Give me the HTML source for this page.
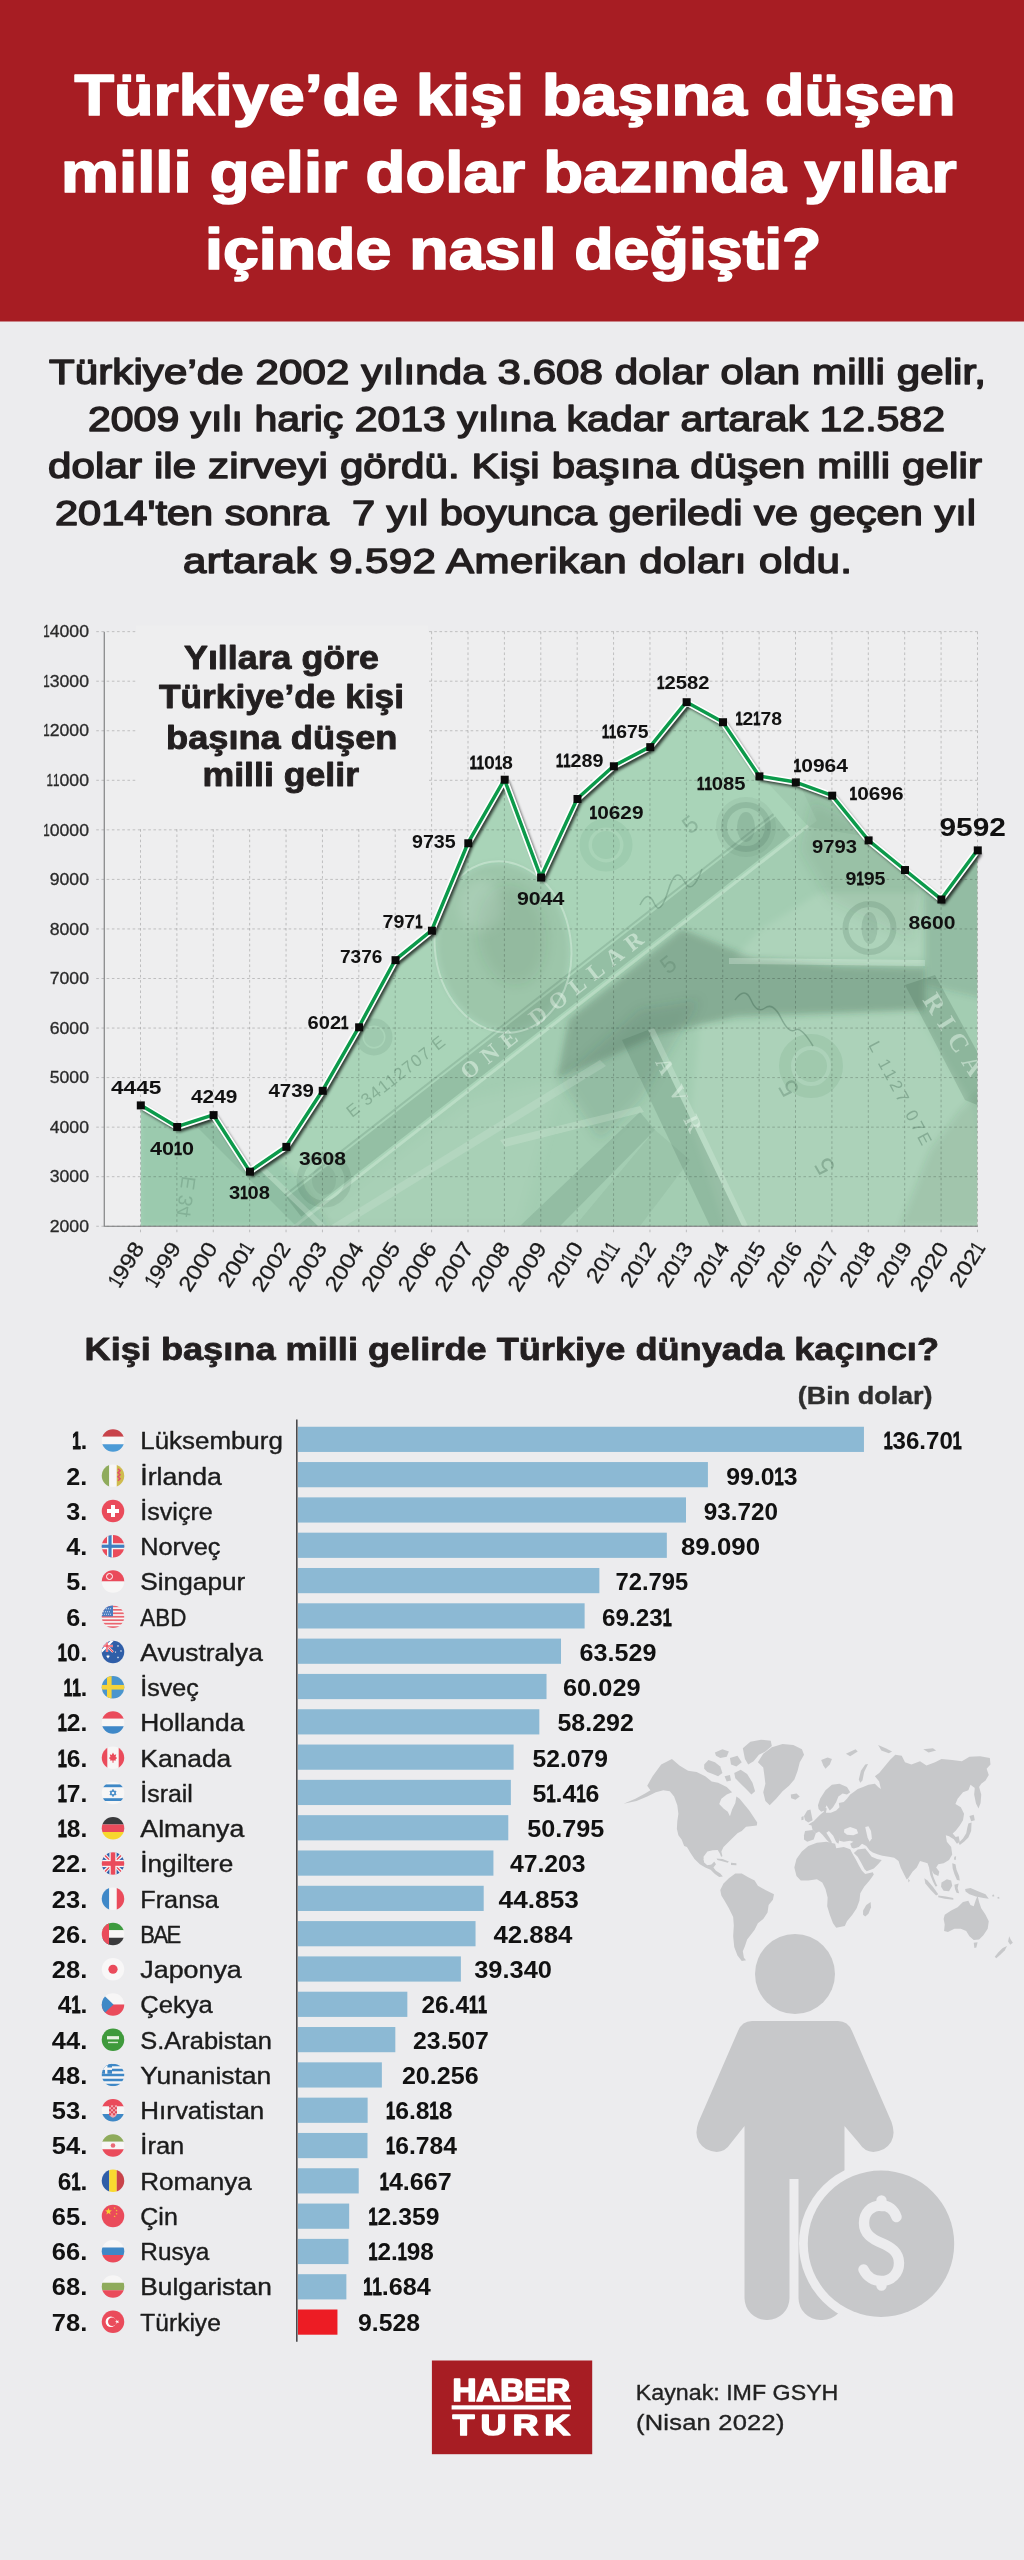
<!DOCTYPE html>
<html lang="tr"><head><meta charset="utf-8"><title>Türkiye’de kişi başına düşen milli gelir</title>
<style>
html,body{margin:0;padding:0;background:#ececee;}
body{width:1024px;height:2560px;overflow:hidden;font-family:"Liberation Sans",sans-serif;}
svg{display:block;}
svg text{font-family:"Liberation Sans",sans-serif;white-space:pre;}
svg text.srf{font-family:"Liberation Serif",serif;}
</style></head><body>
<svg width="1024" height="2560" viewBox="0 0 1024 2560">
<g opacity="0.9999">
<rect x="0" y="0" width="1024" height="2560" fill="#ececee"/>
<rect x="0" y="0" width="1024" height="321.5" fill="#a71d23"/>
<text transform="translate(74.50,115.00) scale(1.1155,1)" font-size="58" font-weight="bold" fill="#ffffff" stroke="#ffffff" stroke-width="1.7" stroke-linejoin="round" textLength="789.75" lengthAdjust="spacingAndGlyphs">Türkiye’de kişi başına düşen</text>
<text transform="translate(61.00,191.50) scale(1.1249,1)" font-size="58" font-weight="bold" fill="#ffffff" stroke="#ffffff" stroke-width="1.7" stroke-linejoin="round" textLength="796.10" lengthAdjust="spacingAndGlyphs">milli gelir dolar bazında yıllar</text>
<text transform="translate(205.00,269.00) scale(1.1121,1)" font-size="58" font-weight="bold" fill="#ffffff" stroke="#ffffff" stroke-width="1.7" stroke-linejoin="round" textLength="554.35" lengthAdjust="spacingAndGlyphs">içinde nasıl değişti?</text>
<text transform="translate(49.00,384.00) scale(1.2000,1)" font-size="35" font-weight="normal" fill="#231f20" stroke="#231f20" stroke-width="1.45" stroke-linejoin="round" textLength="780.83" lengthAdjust="spacing">Türkiye’de 2002 yılında 3.608 dolar olan milli gelir,</text>
<text transform="translate(88.00,431.00) scale(1.1714,1)" font-size="35" font-weight="normal" fill="#231f20" stroke="#231f20" stroke-width="1.45" stroke-linejoin="round" textLength="731.58" lengthAdjust="spacingAndGlyphs">2009 yılı hariç 2013 yılına kadar artarak 12.582</text>
<text transform="translate(48.00,478.00) scale(1.2000,1)" font-size="35" font-weight="normal" fill="#231f20" stroke="#231f20" stroke-width="1.45" stroke-linejoin="round" textLength="778.33" lengthAdjust="spacing">dolar ile zirveyi gördü. Kişi başına düşen milli gelir</text>
<text transform="translate(55.00,525.00) scale(1.1880,1)" font-size="35" font-weight="normal" fill="#231f20" stroke="#231f20" stroke-width="1.45" stroke-linejoin="round" textLength="775.24" lengthAdjust="spacingAndGlyphs">2014&#x27;ten sonra  7 yıl boyunca geriledi ve geçen yıl</text>
<text transform="translate(183.00,572.50) scale(1.2000,1)" font-size="35" font-weight="normal" fill="#231f20" stroke="#231f20" stroke-width="1.45" stroke-linejoin="round" textLength="557.50" lengthAdjust="spacing">artarak 9.592 Amerikan doları oldu.</text>
<defs>
<clipPath id="areaclip"><polygon points="140.50,1226.25 140.50,1105.10 176.89,1126.65 213.28,1114.81 249.67,1171.35 286.06,1146.57 322.45,1090.53 358.84,1027.01 395.23,959.87 431.62,930.39 468.01,842.98 504.40,779.41 540.79,877.22 577.18,798.68 613.57,765.98 649.96,746.85 686.35,701.91 722.74,721.93 759.13,776.09 795.52,782.08 831.91,795.36 868.30,840.11 904.69,869.74 941.08,899.22 977.47,850.07 977.47,1226.25"/></clipPath>
<filter id="blur6" x="-20%" y="-20%" width="140%" height="140%"><feGaussianBlur stdDeviation="6"/></filter>
<filter id="blur3" x="-20%" y="-20%" width="140%" height="140%"><feGaussianBlur stdDeviation="3"/></filter>
<filter id="blur12" x="-30%" y="-30%" width="160%" height="160%"><feGaussianBlur stdDeviation="12"/></filter>
<filter id="lshadow" x="-5%" y="-5%" width="110%" height="110%"><feGaussianBlur stdDeviation="1.5"/></filter>
</defs>
<rect x="104.25" y="631.65" width="873.22" height="594.60" fill="#eeeeef"/>
<g clip-path="url(#areaclip)" aria-hidden="true">
<rect x="140.5" y="631.65" width="836.97" height="594.60" fill="#a9d4b8"/>
<polygon points="816.9,820.8 257.0,1257.5 300.0,1240.0 990.0,1240.0 990.0,700.0 760.0,700.0" fill="#5f7468" fill-opacity="0.074"/>
<polygon points="690.0,700.0 809.0,827.0 990.0,857.0 990.0,690.0" fill="#2a523e" fill-opacity="0.062"/>
<polygon points="790.2,835.4 301.3,1216.7 286.5,1197.8 775.4,816.4" fill="#2a523e" fill-opacity="0.161"/>
<polygon points="809.0,827.0 288.6,1232.9 286.7,1230.6 807.2,824.6" fill="#e6f5ea" fill-opacity="0.279"/>
<polygon points="774.2,814.9 285.3,1196.2 284.1,1194.6 772.9,813.3" fill="#2a523e" fill-opacity="0.155"/>
<text transform="translate(467.7,1080.5) rotate(-38.0)" class="srf" font-weight="bold" font-size="23" textLength="225" lengthAdjust="spacing" fill="#e6f5ea" fill-opacity="0.55">ONE DOLLAR</text>
<ellipse cx="503" cy="947" rx="66" ry="84" fill="#2a523e" fill-opacity="0.105" transform="rotate(-8 503 947)" filter="url(#blur3)"/>
<ellipse cx="512" cy="935" rx="34" ry="50" fill="#2a523e" fill-opacity="0.099" transform="rotate(-8 512 935)" filter="url(#blur6)"/>
<ellipse cx="480" cy="905" rx="22" ry="26" fill="#e6f5ea" fill-opacity="0.155" transform="rotate(0 480 905)" filter="url(#blur6)"/>
<ellipse cx="503" cy="947" rx="68" ry="86" fill="none" stroke="#e6f5ea" stroke-opacity="0.4" stroke-width="2" transform="rotate(-8 503 947)"/>
<circle cx="374" cy="1037" r="15" fill="none" stroke="#2a523e" stroke-opacity="0.099" stroke-width="7"/>
<ellipse cx="374" cy="1037" rx="10" ry="10" fill="#2a523e" fill-opacity="0.074" transform="rotate(0 374 1037)"/>
<text transform="translate(352,1118) rotate(-38)" font-family="Liberation Sans" font-size="17" textLength="120" fill="#2a523e" fill-opacity="0.28">E 34112707 E</text>
<circle cx="324" cy="1180" r="24" fill="none" stroke="#2a523e" stroke-opacity="0.112" stroke-width="7"/>
<ellipse cx="324" cy="1180" rx="12" ry="15" fill="#2a523e" fill-opacity="0.074" transform="rotate(0 324 1180)"/>
<circle cx="606" cy="845" r="22" fill="none" stroke="#2f7d4c" stroke-opacity="0.087" stroke-width="9"/>
<ellipse cx="606" cy="845" rx="14" ry="14" fill="#2f7d4c" fill-opacity="0.087" transform="rotate(0 606 845)"/>
<circle cx="746" cy="827" r="22" fill="none" stroke="#2a523e" stroke-opacity="0.136" stroke-width="6"/>
<ellipse cx="746" cy="827" rx="9" ry="15" fill="#2a523e" fill-opacity="0.136" transform="rotate(0 746 827)"/>
<ellipse cx="746" cy="827" rx="30" ry="30" fill="#2a523e" fill-opacity="0.062" transform="rotate(0 746 827)"/>
<polygon points="569.0,1019.0 682.0,929.0 752.0,958.0 840.0,966.0 925.0,968.0 925.0,1010.0 737.0,1016.0 659.0,1034.0 612.0,1056.0 557.0,1078.0" fill="#2a523e" fill-opacity="0.260" filter="url(#blur3)"/>
<polygon points="560.0,1080.0 640.0,1010.0 700.0,1000.0 640.0,1100.0 600.0,1140.0" fill="#2a523e" fill-opacity="0.136" filter="url(#blur6)"/>
<polygon points="812.0,800.0 870.0,830.0 925.0,880.0 912.0,940.0 830.0,900.0 800.0,850.0" fill="#2a523e" fill-opacity="0.099" filter="url(#blur6)"/>
<polygon points="819.0,893.0 925.0,893.0 925.0,958.0 735.0,958.0 760.0,930.0" fill="#e6f5ea" fill-opacity="0.136" filter="url(#blur3)"/>
<circle cx="869.5" cy="928" r="24" fill="none" stroke="#2a523e" stroke-opacity="0.149" stroke-width="6"/>
<ellipse cx="869.5" cy="928" rx="8" ry="16" fill="#2a523e" fill-opacity="0.136" transform="rotate(0 869.5 928)"/>
<polygon points="729.0,958.0 925.0,960.0 925.0,966.0 729.0,964.0" fill="#e6f5ea" fill-opacity="0.310"/>
<polygon points="925.0,880.0 990.0,860.0 990.0,1000.0 925.0,985.0" fill="#2a523e" fill-opacity="0.136" filter="url(#blur3)"/>
<polygon points="905.0,985.0 935.0,975.0 990.0,1075.0 990.0,1110.0 965.0,1100.0" fill="#2a523e" fill-opacity="0.186"/>
<text transform="translate(922,1000) rotate(58)" class="srf" font-weight="bold" font-size="26" textLength="92" fill="#e6f5ea" fill-opacity="0.5">RICA</text>
<polygon points="700.0,1025.0 915.0,1010.0 975.0,1110.0 990.0,1240.0 730.0,1240.0 690.0,1120.0" fill="#e6f5ea" fill-opacity="0.124" filter="url(#blur3)"/>
<circle cx="811" cy="1066" r="26" fill="none" stroke="#2f7d4c" stroke-opacity="0.099" stroke-width="12"/>
<ellipse cx="811" cy="1066" rx="16" ry="16" fill="#2f7d4c" fill-opacity="0.099" transform="rotate(0 811 1066)"/>
<text transform="translate(868,1045) rotate(62)" font-family="Liberation Sans" font-size="17" textLength="115" fill="#2a523e" fill-opacity="0.3">L 1127 07E</text>
<text transform="translate(836,1168) rotate(-120)" font-family="Liberation Sans" font-size="26" fill="#2a523e" fill-opacity="0.28">5</text>
<text transform="translate(800,1090) rotate(-120)" font-family="Liberation Sans" font-size="26" fill="#2a523e" fill-opacity="0.25">5</text>
<polygon points="900.0,1226.0 930.0,1150.0 960.0,1110.0 990.0,1080.0 990.0,1226.0" fill="#2a523e" fill-opacity="0.099" filter="url(#blur3)"/>
<polygon points="622.0,1040.0 648.0,1030.0 742.0,1226.0 710.0,1226.0" fill="#2a523e" fill-opacity="0.149"/>
<polygon points="648.0,1030.0 654.0,1028.0 748.0,1226.0 742.0,1226.0" fill="#e6f5ea" fill-opacity="0.248"/>
<text transform="translate(655,1062) rotate(64)" class="srf" font-weight="bold" font-size="22" textLength="80" fill="#e6f5ea" fill-opacity="0.5">AVR</text>
<polygon points="640.0,1112.0 655.0,1130.0 560.0,1226.0 520.0,1226.0" fill="#2a523e" fill-opacity="0.124"/>
<polygon points="655.0,1130.0 690.0,1160.0 640.0,1226.0 575.0,1226.0" fill="#2a523e" fill-opacity="0.062"/>
<polygon points="500.0,1140.0 640.0,1106.0 644.0,1112.0 505.0,1147.0" fill="#e6f5ea" fill-opacity="0.217"/>
<polygon points="330.0,1226.0 600.0,1060.0 606.0,1066.0 345.0,1226.0" fill="#e6f5ea" fill-opacity="0.186"/>
<polygon points="300.0,1226.0 470.0,1100.0 560.0,1080.0 520.0,1226.0" fill="#e6f5ea" fill-opacity="0.074" filter="url(#blur6)"/>
<polygon points="140.0,1090.0 215.0,1100.0 300.0,1180.0 330.0,1226.0 140.0,1226.0" fill="#2a523e" fill-opacity="0.081" filter="url(#blur3)"/>
<polygon points="188.0,1118.0 200.0,1112.0 318.0,1226.0 296.0,1226.0" fill="#2a523e" fill-opacity="0.099"/>
<polygon points="200.0,1112.0 205.0,1110.0 326.0,1226.0 318.0,1226.0" fill="#e6f5ea" fill-opacity="0.217"/>
<text transform="translate(190,1218) rotate(-82) scale(-1,1)" font-family="Liberation Sans" font-size="20" fill="#2a523e" fill-opacity="0.2" text-anchor="end">E 34</text>
<path d="M735,1000 q10,-14 16,0 t14,8 t16,10 t14,12 t18,16" fill="none" stroke="#2a523e" stroke-opacity="0.3" stroke-width="1.5"/>
<path d="M640,905 q8,-16 14,-2 t14,-12 t16,-10 t18,-12" fill="none" stroke="#2a523e" stroke-opacity="0.25" stroke-width="1.5"/>
<text transform="translate(690,835) rotate(-38)" font-family="Liberation Sans" font-size="24" fill="#2a523e" fill-opacity="0.22">5</text>
<text transform="translate(668,975) rotate(-38)" font-family="Liberation Sans" font-size="24" fill="#2a523e" fill-opacity="0.18">5</text>
</g>
<path d="M96.25,1226.25H977.47M96.25,1176.70H977.47M96.25,1127.15H977.47M96.25,1077.60H977.47M96.25,1028.05H977.47M96.25,978.50H977.47M96.25,928.95H977.47M96.25,879.40H977.47M96.25,829.85H977.47M96.25,780.30H977.47M96.25,730.75H977.47M96.25,681.20H977.47M96.25,631.65H977.47M140.50,631.65V1234.25M176.89,631.65V1234.25M213.28,631.65V1234.25M249.67,631.65V1234.25M286.06,631.65V1234.25M322.45,631.65V1234.25M358.84,631.65V1234.25M395.23,631.65V1234.25M431.62,631.65V1234.25M468.01,631.65V1234.25M504.40,631.65V1234.25M540.79,631.65V1234.25M577.18,631.65V1234.25M613.57,631.65V1234.25M649.96,631.65V1234.25M686.35,631.65V1234.25M722.74,631.65V1234.25M759.13,631.65V1234.25M795.52,631.65V1234.25M831.91,631.65V1234.25M868.30,631.65V1234.25M904.69,631.65V1234.25M941.08,631.65V1234.25M977.47,631.65V1234.25" fill="none" stroke="#000" stroke-opacity="0.2" stroke-width="1" stroke-dasharray="2.6 2.6"/>
<rect x="136" y="625.65" width="292" height="201.35" fill="#eeeeef"/>
<path d="M104.25,631.65V1226.25H977.47" fill="none" stroke="#77787a" stroke-width="1.1"/>
<g transform="translate(49.72,1231.95) scale(1.0700,1)" font-size="16.5" font-weight="normal" fill="#2a2a2a"><text x="0.00 9.18 18.35 27.53" y="0" stroke="#2a2a2a" stroke-width="0.3" stroke-linejoin="round">2000</text></g>
<g transform="translate(49.72,1182.40) scale(1.0700,1)" font-size="16.5" font-weight="normal" fill="#2a2a2a"><text x="0.00 9.18 18.35 27.53" y="0" stroke="#2a2a2a" stroke-width="0.3" stroke-linejoin="round">3000</text></g>
<g transform="translate(49.72,1132.85) scale(1.0700,1)" font-size="16.5" font-weight="normal" fill="#2a2a2a"><text x="0.00 9.18 18.35 27.53" y="0" stroke="#2a2a2a" stroke-width="0.3" stroke-linejoin="round">4000</text></g>
<g transform="translate(49.72,1083.30) scale(1.0700,1)" font-size="16.5" font-weight="normal" fill="#2a2a2a"><text x="0.00 9.18 18.35 27.53" y="0" stroke="#2a2a2a" stroke-width="0.3" stroke-linejoin="round">5000</text></g>
<g transform="translate(49.72,1033.75) scale(1.0700,1)" font-size="16.5" font-weight="normal" fill="#2a2a2a"><text x="0.00 9.18 18.35 27.53" y="0" stroke="#2a2a2a" stroke-width="0.3" stroke-linejoin="round">6000</text></g>
<g transform="translate(49.72,984.20) scale(1.0700,1)" font-size="16.5" font-weight="normal" fill="#2a2a2a"><text x="0.00 9.18 18.35 27.53" y="0" stroke="#2a2a2a" stroke-width="0.3" stroke-linejoin="round">7000</text></g>
<g transform="translate(49.72,934.65) scale(1.0700,1)" font-size="16.5" font-weight="normal" fill="#2a2a2a"><text x="0.00 9.18 18.35 27.53" y="0" stroke="#2a2a2a" stroke-width="0.3" stroke-linejoin="round">8000</text></g>
<g transform="translate(49.72,885.10) scale(1.0700,1)" font-size="16.5" font-weight="normal" fill="#2a2a2a"><text x="0.00 9.18 18.35 27.53" y="0" stroke="#2a2a2a" stroke-width="0.3" stroke-linejoin="round">9000</text></g>
<g transform="translate(43.24,835.55) scale(1.0700,1)" font-size="16.5" font-weight="normal" fill="#2a2a2a"><text transform="translate(0.00,0) scale(0.66,1)" stroke="#2a2a2a" stroke-width="0.3" stroke-linejoin="round">1</text><text x="6.06 15.23 24.41 33.59" y="0" stroke="#2a2a2a" stroke-width="0.3" stroke-linejoin="round">0000</text></g>
<g transform="translate(46.58,786.00) scale(1.0700,1)" font-size="16.5" font-weight="normal" fill="#2a2a2a"><text transform="translate(0.00,0) scale(0.66,1)" stroke="#2a2a2a" stroke-width="0.3" stroke-linejoin="round">1</text><text transform="translate(6.06,0) scale(0.66,1)" stroke="#2a2a2a" stroke-width="0.3" stroke-linejoin="round">1</text><text x="12.11 21.29 30.47" y="0" stroke="#2a2a2a" stroke-width="0.3" stroke-linejoin="round">000</text></g>
<g transform="translate(43.24,736.45) scale(1.0700,1)" font-size="16.5" font-weight="normal" fill="#2a2a2a"><text transform="translate(0.00,0) scale(0.66,1)" stroke="#2a2a2a" stroke-width="0.3" stroke-linejoin="round">1</text><text x="6.06 15.23 24.41 33.59" y="0" stroke="#2a2a2a" stroke-width="0.3" stroke-linejoin="round">2000</text></g>
<g transform="translate(43.24,686.90) scale(1.0700,1)" font-size="16.5" font-weight="normal" fill="#2a2a2a"><text transform="translate(0.00,0) scale(0.66,1)" stroke="#2a2a2a" stroke-width="0.3" stroke-linejoin="round">1</text><text x="6.06 15.23 24.41 33.59" y="0" stroke="#2a2a2a" stroke-width="0.3" stroke-linejoin="round">3000</text></g>
<g transform="translate(43.24,637.35) scale(1.0700,1)" font-size="16.5" font-weight="normal" fill="#2a2a2a"><text transform="translate(0.00,0) scale(0.66,1)" stroke="#2a2a2a" stroke-width="0.3" stroke-linejoin="round">1</text><text x="6.06 15.23 24.41 33.59" y="0" stroke="#2a2a2a" stroke-width="0.3" stroke-linejoin="round">4000</text></g>
<g transform="translate(145.10,1247.85) rotate(-58) translate(-48.50,0) scale(1.1082,1)" font-size="21.5" font-weight="normal" fill="#1a1a1a"><text transform="translate(0.00,0) scale(0.66,1)" stroke="#1a1a1a" stroke-width="0.3" stroke-linejoin="round">1</text><text x="7.89 19.85 31.81" y="0" stroke="#1a1a1a" stroke-width="0.3" stroke-linejoin="round">998</text></g>
<g transform="translate(181.67,1247.85) rotate(-58) translate(-48.50,0) scale(1.1082,1)" font-size="21.5" font-weight="normal" fill="#1a1a1a"><text transform="translate(0.00,0) scale(0.66,1)" stroke="#1a1a1a" stroke-width="0.3" stroke-linejoin="round">1</text><text x="7.89 19.85 31.81" y="0" stroke="#1a1a1a" stroke-width="0.3" stroke-linejoin="round">999</text></g>
<g transform="translate(218.24,1247.85) rotate(-58) translate(-53.50,0) scale(1.1185,1)" font-size="21.5" font-weight="normal" fill="#1a1a1a"><text x="0.00 11.96 23.92 35.87" y="0" stroke="#1a1a1a" stroke-width="0.3" stroke-linejoin="round">2000</text></g>
<g transform="translate(254.82,1247.85) rotate(-58) translate(-48.50,0) scale(1.1082,1)" font-size="21.5" font-weight="normal" fill="#1a1a1a"><text x="0.00 11.96 23.92" y="0" stroke="#1a1a1a" stroke-width="0.3" stroke-linejoin="round">200</text><text transform="translate(35.87,0) scale(0.66,1)" stroke="#1a1a1a" stroke-width="0.3" stroke-linejoin="round">1</text></g>
<g transform="translate(291.39,1247.85) rotate(-58) translate(-53.50,0) scale(1.1185,1)" font-size="21.5" font-weight="normal" fill="#1a1a1a"><text x="0.00 11.96 23.92 35.87" y="0" stroke="#1a1a1a" stroke-width="0.3" stroke-linejoin="round">2002</text></g>
<g transform="translate(327.96,1247.85) rotate(-58) translate(-53.50,0) scale(1.1185,1)" font-size="21.5" font-weight="normal" fill="#1a1a1a"><text x="0.00 11.96 23.92 35.87" y="0" stroke="#1a1a1a" stroke-width="0.3" stroke-linejoin="round">2003</text></g>
<g transform="translate(364.53,1247.85) rotate(-58) translate(-53.50,0) scale(1.1185,1)" font-size="21.5" font-weight="normal" fill="#1a1a1a"><text x="0.00 11.96 23.92 35.87" y="0" stroke="#1a1a1a" stroke-width="0.3" stroke-linejoin="round">2004</text></g>
<g transform="translate(401.10,1247.85) rotate(-58) translate(-53.50,0) scale(1.1185,1)" font-size="21.5" font-weight="normal" fill="#1a1a1a"><text x="0.00 11.96 23.92 35.87" y="0" stroke="#1a1a1a" stroke-width="0.3" stroke-linejoin="round">2005</text></g>
<g transform="translate(437.68,1247.85) rotate(-58) translate(-53.50,0) scale(1.1185,1)" font-size="21.5" font-weight="normal" fill="#1a1a1a"><text x="0.00 11.96 23.92 35.87" y="0" stroke="#1a1a1a" stroke-width="0.3" stroke-linejoin="round">2006</text></g>
<g transform="translate(474.25,1247.85) rotate(-58) translate(-53.50,0) scale(1.1185,1)" font-size="21.5" font-weight="normal" fill="#1a1a1a"><text x="0.00 11.96 23.92 35.87" y="0" stroke="#1a1a1a" stroke-width="0.3" stroke-linejoin="round">2007</text></g>
<g transform="translate(510.82,1247.85) rotate(-58) translate(-53.50,0) scale(1.1185,1)" font-size="21.5" font-weight="normal" fill="#1a1a1a"><text x="0.00 11.96 23.92 35.87" y="0" stroke="#1a1a1a" stroke-width="0.3" stroke-linejoin="round">2008</text></g>
<g transform="translate(547.39,1247.85) rotate(-58) translate(-53.50,0) scale(1.1185,1)" font-size="21.5" font-weight="normal" fill="#1a1a1a"><text x="0.00 11.96 23.92 35.87" y="0" stroke="#1a1a1a" stroke-width="0.3" stroke-linejoin="round">2009</text></g>
<g transform="translate(583.96,1247.85) rotate(-58) translate(-48.50,0) scale(1.1082,1)" font-size="21.5" font-weight="normal" fill="#1a1a1a"><text x="0.00 11.96" y="0" stroke="#1a1a1a" stroke-width="0.3" stroke-linejoin="round">20</text><text transform="translate(23.92,0) scale(0.66,1)" stroke="#1a1a1a" stroke-width="0.3" stroke-linejoin="round">1</text><text x="31.81" y="0" stroke="#1a1a1a" stroke-width="0.3" stroke-linejoin="round">0</text></g>
<g transform="translate(620.54,1247.85) rotate(-58) translate(-43.50,0) scale(1.0957,1)" font-size="21.5" font-weight="normal" fill="#1a1a1a"><text x="0.00 11.96" y="0" stroke="#1a1a1a" stroke-width="0.3" stroke-linejoin="round">20</text><text transform="translate(23.92,0) scale(0.66,1)" stroke="#1a1a1a" stroke-width="0.3" stroke-linejoin="round">1</text><text transform="translate(31.81,0) scale(0.66,1)" stroke="#1a1a1a" stroke-width="0.3" stroke-linejoin="round">1</text></g>
<g transform="translate(657.11,1247.85) rotate(-58) translate(-48.50,0) scale(1.1082,1)" font-size="21.5" font-weight="normal" fill="#1a1a1a"><text x="0.00 11.96" y="0" stroke="#1a1a1a" stroke-width="0.3" stroke-linejoin="round">20</text><text transform="translate(23.92,0) scale(0.66,1)" stroke="#1a1a1a" stroke-width="0.3" stroke-linejoin="round">1</text><text x="31.81" y="0" stroke="#1a1a1a" stroke-width="0.3" stroke-linejoin="round">2</text></g>
<g transform="translate(693.68,1247.85) rotate(-58) translate(-48.50,0) scale(1.1082,1)" font-size="21.5" font-weight="normal" fill="#1a1a1a"><text x="0.00 11.96" y="0" stroke="#1a1a1a" stroke-width="0.3" stroke-linejoin="round">20</text><text transform="translate(23.92,0) scale(0.66,1)" stroke="#1a1a1a" stroke-width="0.3" stroke-linejoin="round">1</text><text x="31.81" y="0" stroke="#1a1a1a" stroke-width="0.3" stroke-linejoin="round">3</text></g>
<g transform="translate(730.25,1247.85) rotate(-58) translate(-48.50,0) scale(1.1082,1)" font-size="21.5" font-weight="normal" fill="#1a1a1a"><text x="0.00 11.96" y="0" stroke="#1a1a1a" stroke-width="0.3" stroke-linejoin="round">20</text><text transform="translate(23.92,0) scale(0.66,1)" stroke="#1a1a1a" stroke-width="0.3" stroke-linejoin="round">1</text><text x="31.81" y="0" stroke="#1a1a1a" stroke-width="0.3" stroke-linejoin="round">4</text></g>
<g transform="translate(766.82,1247.85) rotate(-58) translate(-48.50,0) scale(1.1082,1)" font-size="21.5" font-weight="normal" fill="#1a1a1a"><text x="0.00 11.96" y="0" stroke="#1a1a1a" stroke-width="0.3" stroke-linejoin="round">20</text><text transform="translate(23.92,0) scale(0.66,1)" stroke="#1a1a1a" stroke-width="0.3" stroke-linejoin="round">1</text><text x="31.81" y="0" stroke="#1a1a1a" stroke-width="0.3" stroke-linejoin="round">5</text></g>
<g transform="translate(803.40,1247.85) rotate(-58) translate(-48.50,0) scale(1.1082,1)" font-size="21.5" font-weight="normal" fill="#1a1a1a"><text x="0.00 11.96" y="0" stroke="#1a1a1a" stroke-width="0.3" stroke-linejoin="round">20</text><text transform="translate(23.92,0) scale(0.66,1)" stroke="#1a1a1a" stroke-width="0.3" stroke-linejoin="round">1</text><text x="31.81" y="0" stroke="#1a1a1a" stroke-width="0.3" stroke-linejoin="round">6</text></g>
<g transform="translate(839.97,1247.85) rotate(-58) translate(-48.50,0) scale(1.1082,1)" font-size="21.5" font-weight="normal" fill="#1a1a1a"><text x="0.00 11.96" y="0" stroke="#1a1a1a" stroke-width="0.3" stroke-linejoin="round">20</text><text transform="translate(23.92,0) scale(0.66,1)" stroke="#1a1a1a" stroke-width="0.3" stroke-linejoin="round">1</text><text x="31.81" y="0" stroke="#1a1a1a" stroke-width="0.3" stroke-linejoin="round">7</text></g>
<g transform="translate(876.54,1247.85) rotate(-58) translate(-48.50,0) scale(1.1082,1)" font-size="21.5" font-weight="normal" fill="#1a1a1a"><text x="0.00 11.96" y="0" stroke="#1a1a1a" stroke-width="0.3" stroke-linejoin="round">20</text><text transform="translate(23.92,0) scale(0.66,1)" stroke="#1a1a1a" stroke-width="0.3" stroke-linejoin="round">1</text><text x="31.81" y="0" stroke="#1a1a1a" stroke-width="0.3" stroke-linejoin="round">8</text></g>
<g transform="translate(913.11,1247.85) rotate(-58) translate(-48.50,0) scale(1.1082,1)" font-size="21.5" font-weight="normal" fill="#1a1a1a"><text x="0.00 11.96" y="0" stroke="#1a1a1a" stroke-width="0.3" stroke-linejoin="round">20</text><text transform="translate(23.92,0) scale(0.66,1)" stroke="#1a1a1a" stroke-width="0.3" stroke-linejoin="round">1</text><text x="31.81" y="0" stroke="#1a1a1a" stroke-width="0.3" stroke-linejoin="round">9</text></g>
<g transform="translate(949.68,1247.85) rotate(-58) translate(-53.50,0) scale(1.1185,1)" font-size="21.5" font-weight="normal" fill="#1a1a1a"><text x="0.00 11.96 23.92 35.87" y="0" stroke="#1a1a1a" stroke-width="0.3" stroke-linejoin="round">2020</text></g>
<g transform="translate(986.26,1247.85) rotate(-58) translate(-48.50,0) scale(1.1082,1)" font-size="21.5" font-weight="normal" fill="#1a1a1a"><text x="0.00 11.96 23.92" y="0" stroke="#1a1a1a" stroke-width="0.3" stroke-linejoin="round">202</text><text transform="translate(35.87,0) scale(0.66,1)" stroke="#1a1a1a" stroke-width="0.3" stroke-linejoin="round">1</text></g>
<path d="M140.50,1105.10 L176.89,1126.65 L213.28,1114.81 L249.67,1171.35 L286.06,1146.57 L322.45,1090.53 L358.84,1027.01 L395.23,959.87 L431.62,930.39 L468.01,842.98 L504.40,779.41 L540.79,877.22 L577.18,798.68 L613.57,765.98 L649.96,746.85 L686.35,701.91 L722.74,721.93 L759.13,776.09 L795.52,782.08 L831.91,795.36 L868.30,840.11 L904.69,869.74 L941.08,899.22 L977.47,850.07" transform="translate(2.4,3)" fill="none" stroke="#000" stroke-opacity="0.72" stroke-width="5" stroke-linejoin="round" filter="url(#lshadow)"/>
<path d="M140.50,1105.10 L176.89,1126.65 L213.28,1114.81 L249.67,1171.35 L286.06,1146.57 L322.45,1090.53 L358.84,1027.01 L395.23,959.87 L431.62,930.39 L468.01,842.98 L504.40,779.41 L540.79,877.22 L577.18,798.68 L613.57,765.98 L649.96,746.85 L686.35,701.91 L722.74,721.93 L759.13,776.09 L795.52,782.08 L831.91,795.36 L868.30,840.11 L904.69,869.74 L941.08,899.22 L977.47,850.07" fill="none" stroke="#ffffff" stroke-width="6.8" stroke-linejoin="round" stroke-linecap="round"/>
<path d="M140.50,1105.10 L176.89,1126.65 L213.28,1114.81 L249.67,1171.35 L286.06,1146.57 L322.45,1090.53 L358.84,1027.01 L395.23,959.87 L431.62,930.39 L468.01,842.98 L504.40,779.41 L540.79,877.22 L577.18,798.68 L613.57,765.98 L649.96,746.85 L686.35,701.91 L722.74,721.93 L759.13,776.09 L795.52,782.08 L831.91,795.36 L868.30,840.11 L904.69,869.74 L941.08,899.22 L977.47,850.07" fill="none" stroke="#0c9a4b" stroke-width="3.5" stroke-linejoin="round" stroke-linecap="round"/>
<rect x="136.80" y="1101.40" width="8" height="8" fill="#0a0a0a"/>
<rect x="173.19" y="1122.95" width="8" height="8" fill="#0a0a0a"/>
<rect x="209.58" y="1111.11" width="8" height="8" fill="#0a0a0a"/>
<rect x="245.97" y="1167.65" width="8" height="8" fill="#0a0a0a"/>
<rect x="282.36" y="1142.87" width="8" height="8" fill="#0a0a0a"/>
<rect x="318.75" y="1086.83" width="8" height="8" fill="#0a0a0a"/>
<rect x="355.14" y="1023.31" width="8" height="8" fill="#0a0a0a"/>
<rect x="391.53" y="956.17" width="8" height="8" fill="#0a0a0a"/>
<rect x="427.92" y="926.69" width="8" height="8" fill="#0a0a0a"/>
<rect x="464.31" y="839.28" width="8" height="8" fill="#0a0a0a"/>
<rect x="500.70" y="775.71" width="8" height="8" fill="#0a0a0a"/>
<rect x="537.09" y="873.52" width="8" height="8" fill="#0a0a0a"/>
<rect x="573.48" y="794.98" width="8" height="8" fill="#0a0a0a"/>
<rect x="609.87" y="762.28" width="8" height="8" fill="#0a0a0a"/>
<rect x="646.26" y="743.15" width="8" height="8" fill="#0a0a0a"/>
<rect x="682.65" y="698.21" width="8" height="8" fill="#0a0a0a"/>
<rect x="719.04" y="718.23" width="8" height="8" fill="#0a0a0a"/>
<rect x="755.43" y="772.39" width="8" height="8" fill="#0a0a0a"/>
<rect x="791.82" y="778.38" width="8" height="8" fill="#0a0a0a"/>
<rect x="828.21" y="791.66" width="8" height="8" fill="#0a0a0a"/>
<rect x="864.60" y="836.41" width="8" height="8" fill="#0a0a0a"/>
<rect x="900.99" y="866.04" width="8" height="8" fill="#0a0a0a"/>
<rect x="937.38" y="895.52" width="8" height="8" fill="#0a0a0a"/>
<rect x="973.77" y="846.37" width="8" height="8" fill="#0a0a0a"/>
<g transform="translate(111.00,1094.00) scale(1.2270,1)" font-size="18.5" font-weight="bold" fill="#111111"><text x="0.00 10.29 20.58 30.87" y="0">4445</text></g>
<g transform="translate(150.00,1155.00) scale(1.1684,1)" font-size="18.5" font-weight="bold" fill="#111111"><text x="0.00 10.29" y="0">40</text><text transform="translate(20.58,0) scale(0.66,1)" stroke="#111111" stroke-width="0.65" vector-effect="non-scaling-stroke">1</text><text x="27.37" y="0">0</text></g>
<g transform="translate(191.00,1102.50) scale(1.1298,1)" font-size="18.5" font-weight="bold" fill="#111111"><text x="0.00 10.29 20.58 30.87" y="0">4249</text></g>
<g transform="translate(229.00,1199.00) scale(1.0887,1)" font-size="18.5" font-weight="bold" fill="#111111"><text x="0.00" y="0">3</text><text transform="translate(10.29,0) scale(0.66,1)" stroke="#111111" stroke-width="0.65" vector-effect="non-scaling-stroke">1</text><text x="17.08 27.37" y="0">08</text></g>
<g transform="translate(268.50,1096.50) scale(1.1055,1)" font-size="18.5" font-weight="bold" fill="#111111"><text x="0.00 10.29 20.58 30.87" y="0">4739</text></g>
<g transform="translate(299.00,1165.00) scale(1.1420,1)" font-size="18.5" font-weight="bold" fill="#111111"><text x="0.00 10.29 20.58 30.87" y="0">3608</text></g>
<g transform="translate(307.50,1029.00) scale(1.0887,1)" font-size="18.5" font-weight="bold" fill="#111111"><text x="0.00 10.29 20.58" y="0">602</text><text transform="translate(30.87,0) scale(0.66,1)" stroke="#111111" stroke-width="0.65" vector-effect="non-scaling-stroke">1</text></g>
<g transform="translate(340.00,963.00) scale(1.0326,1)" font-size="18.5" font-weight="bold" fill="#111111"><text x="0.00 10.29 20.58 30.87" y="0">7376</text></g>
<g transform="translate(382.50,927.50) scale(1.0622,1)" font-size="18.5" font-weight="bold" fill="#111111"><text x="0.00 10.29 20.58" y="0">797</text><text transform="translate(30.87,0) scale(0.66,1)" stroke="#111111" stroke-width="0.65" vector-effect="non-scaling-stroke">1</text></g>
<g transform="translate(412.00,848.00) scale(1.0618,1)" font-size="18.5" font-weight="bold" fill="#111111"><text x="0.00 10.29 20.58 30.87" y="0">9735</text></g>
<g transform="translate(469.70,769.00) scale(1.0549,1)" font-size="18.5" font-weight="bold" fill="#111111"><text transform="translate(0.00,0) scale(0.66,1)" stroke="#111111" stroke-width="0.65" vector-effect="non-scaling-stroke">1</text><text transform="translate(6.79,0) scale(0.66,1)" stroke="#111111" stroke-width="0.65" vector-effect="non-scaling-stroke">1</text><text x="13.58" y="0">0</text><text transform="translate(23.87,0) scale(0.66,1)" stroke="#111111" stroke-width="0.65" vector-effect="non-scaling-stroke">1</text><text x="30.66" y="0">8</text></g>
<g transform="translate(517.00,905.00) scale(1.1541,1)" font-size="18.5" font-weight="bold" fill="#111111"><text x="0.00 10.29 20.58 30.87" y="0">9044</text></g>
<g transform="translate(589.50,819.00) scale(1.1262,1)" font-size="18.5" font-weight="bold" fill="#111111"><text transform="translate(0.00,0) scale(0.66,1)" stroke="#111111" stroke-width="0.65" vector-effect="non-scaling-stroke">1</text><text x="6.79 17.08 27.37 37.66" y="0">0629</text></g>
<g transform="translate(556.00,766.50) scale(1.0686,1)" font-size="18.5" font-weight="bold" fill="#111111"><text transform="translate(0.00,0) scale(0.66,1)" stroke="#111111" stroke-width="0.65" vector-effect="non-scaling-stroke">1</text><text transform="translate(6.79,0) scale(0.66,1)" stroke="#111111" stroke-width="0.65" vector-effect="non-scaling-stroke">1</text><text x="13.58 23.87 34.16" y="0">289</text></g>
<g transform="translate(602.00,737.50) scale(1.0461,1)" font-size="18.5" font-weight="bold" fill="#111111"><text transform="translate(0.00,0) scale(0.66,1)" stroke="#111111" stroke-width="0.65" vector-effect="non-scaling-stroke">1</text><text transform="translate(6.79,0) scale(0.66,1)" stroke="#111111" stroke-width="0.65" vector-effect="non-scaling-stroke">1</text><text x="13.58 23.87 34.16" y="0">675</text></g>
<g transform="translate(657.00,689.00) scale(1.0949,1)" font-size="18.5" font-weight="bold" fill="#111111"><text transform="translate(0.00,0) scale(0.66,1)" stroke="#111111" stroke-width="0.65" vector-effect="non-scaling-stroke">1</text><text x="6.79 17.08 27.37 37.66" y="0">2582</text></g>
<g transform="translate(735.50,725.00) scale(1.0461,1)" font-size="18.5" font-weight="bold" fill="#111111"><text transform="translate(0.00,0) scale(0.66,1)" stroke="#111111" stroke-width="0.65" vector-effect="non-scaling-stroke">1</text><text x="6.79" y="0">2</text><text transform="translate(17.08,0) scale(0.66,1)" stroke="#111111" stroke-width="0.65" vector-effect="non-scaling-stroke">1</text><text x="23.87 34.16" y="0">78</text></g>
<g transform="translate(697.00,790.00) scale(1.0911,1)" font-size="18.5" font-weight="bold" fill="#111111"><text transform="translate(0.00,0) scale(0.66,1)" stroke="#111111" stroke-width="0.65" vector-effect="non-scaling-stroke">1</text><text transform="translate(6.79,0) scale(0.66,1)" stroke="#111111" stroke-width="0.65" vector-effect="non-scaling-stroke">1</text><text x="13.58 23.87 34.16" y="0">085</text></g>
<g transform="translate(793.50,771.50) scale(1.1367,1)" font-size="18.5" font-weight="bold" fill="#111111"><text transform="translate(0.00,0) scale(0.66,1)" stroke="#111111" stroke-width="0.65" vector-effect="non-scaling-stroke">1</text><text x="6.79 17.08 27.37 37.66" y="0">0964</text></g>
<g transform="translate(849.50,800.00) scale(1.1262,1)" font-size="18.5" font-weight="bold" fill="#111111"><text transform="translate(0.00,0) scale(0.66,1)" stroke="#111111" stroke-width="0.65" vector-effect="non-scaling-stroke">1</text><text x="6.79 17.08 27.37 37.66" y="0">0696</text></g>
<g transform="translate(812.00,852.50) scale(1.0934,1)" font-size="18.5" font-weight="bold" fill="#111111"><text x="0.00 10.29 20.58 30.87" y="0">9793</text></g>
<g transform="translate(845.50,885.00) scale(1.0622,1)" font-size="18.5" font-weight="bold" fill="#111111"><text x="0.00" y="0">9</text><text transform="translate(10.29,0) scale(0.66,1)" stroke="#111111" stroke-width="0.65" vector-effect="non-scaling-stroke">1</text><text x="17.08 27.37" y="0">95</text></g>
<g transform="translate(908.50,928.50) scale(1.1420,1)" font-size="18.5" font-weight="bold" fill="#111111"><text x="0.00 10.29 20.58 30.87" y="0">8600</text></g>
<g transform="translate(939.50,836.00) scale(1.1280,1)" font-size="26.5" font-weight="bold" fill="#111111"><text x="0.00 14.74 29.48 44.22" y="0">9592</text></g>
<text transform="translate(184.00,668.50) scale(1.1016,1)" font-size="32.5" font-weight="bold" fill="#231f20" stroke="#231f20" stroke-width="0.9" stroke-linejoin="round" textLength="177.02" lengthAdjust="spacingAndGlyphs">Yıllara göre</text>
<text transform="translate(159.00,707.50) scale(1.0850,1)" font-size="32.5" font-weight="bold" fill="#231f20" stroke="#231f20" stroke-width="0.9" stroke-linejoin="round" textLength="225.80" lengthAdjust="spacingAndGlyphs">Türkiye’de kişi</text>
<text transform="translate(166.00,748.50) scale(1.1146,1)" font-size="32.5" font-weight="bold" fill="#231f20" stroke="#231f20" stroke-width="0.9" stroke-linejoin="round" textLength="207.70" lengthAdjust="spacingAndGlyphs">başına düşen</text>
<text transform="translate(202.50,786.00) scale(1.0969,1)" font-size="32.5" font-weight="bold" fill="#231f20" stroke="#231f20" stroke-width="0.9" stroke-linejoin="round" textLength="142.68" lengthAdjust="spacingAndGlyphs">milli gelir</text>
<text transform="translate(84.50,1360.00) scale(1.1485,1)" font-size="31.5" font-weight="bold" fill="#231f20" stroke="#231f20" stroke-width="0.8" stroke-linejoin="round" textLength="744.01" lengthAdjust="spacingAndGlyphs">Kişi başına milli gelirde Türkiye dünyada kaçıncı?</text>
<text transform="translate(797.80,1404.00) scale(1.1005,1)" font-size="24.5" font-weight="bold" fill="#2e2e2e" stroke="#2e2e2e" stroke-width="0.4" stroke-linejoin="round" textLength="122.49" lengthAdjust="spacingAndGlyphs">(Bin dolar)</text>
<g transform="translate(615,1730) scale(0.214844)">
<polygon points="150,260 175,215 215,160 265,135 300,165 340,190 380,195 420,215 450,240 480,245 520,265 545,290 520,300 495,320 485,345 505,365 525,380 535,402 545,370 560,340 565,310 580,320 600,345 625,375 645,405 662,430 660,445 640,447 610,450 590,470 570,480 545,505 525,525 505,545 495,565 500,588 494,590 488,575 478,558 455,560 430,565 412,590 415,615 430,630 450,625 462,612 470,625 458,640 470,655 490,668 502,682 485,684 465,670 445,650 420,640 395,625 370,600 350,570 335,545 322,540 310,510 295,490 288,460 290,425 295,390 290,350 275,310 255,285 225,280 190,290 150,310 100,330 40,343 95,320 140,295 165,280" fill="#c7c8ca"/>
<polygon points="415,160 435,140 465,150 490,170 500,200 480,215 455,205 430,195 415,180" fill="#c7c8ca"/>
<polygon points="555,200 585,185 615,205 640,245 652,285 635,300 610,275 585,250 560,225" fill="#c7c8ca"/>
<polygon points="595,85 630,55 680,45 725,50 730,75 700,100 670,115 645,145 620,160 605,135 600,110" fill="#c7c8ca"/>
<polygon points="465,105 500,90 530,100 520,125 490,130 470,120" fill="#c7c8ca"/>
<polygon points="535,130 570,120 590,150 565,170 540,160" fill="#c7c8ca"/>
<polygon points="510,215 535,210 540,235 520,240" fill="#c7c8ca"/>
<polygon points="665,150 690,110 730,80 780,65 830,70 870,90 880,115 860,150 850,190 835,230 810,260 780,285 750,320 720,350 700,330 690,290 700,250 695,210 690,175" fill="#c7c8ca"/>
<polygon points="818,300 845,295 860,310 840,325 820,318" fill="#c7c8ca"/>
<polygon points="470,598 500,600 530,612 525,618 495,610 470,604" fill="#c7c8ca"/>
<polygon points="540,618 565,620 565,630 540,628" fill="#c7c8ca"/>
<polygon points="490,745 505,715 530,690 560,668 590,668 620,685 650,700 665,725 700,745 740,765 735,790 715,815 710,850 690,880 665,900 650,930 635,950 615,975 605,1005 595,1030 600,1060 610,1072 590,1075 570,1050 555,1010 550,960 553,910 550,870 530,830 510,795 495,770" fill="#c7c8ca"/>
<polygon points="834.7,640 844.7,600 869.7,565 899.7,540 939.7,525 984.7,520 1024.7,530 1029.7,550 1064.7,545 1094.7,555 1104.7,575 1119.7,600 1134.7,630 1149.7,655 1164.7,670 1199.7,662 1204.7,672 1184.7,700 1159.7,730 1141.7,760 1137.7,795 1124.7,830 1104.7,860 1079.7,890 1069.7,912 1029.7,920 1014.7,900 999.7,860 987.7,820 989.7,780 979.7,740 964.7,710 939.7,695 899.7,700 864.7,700 844.7,680" fill="#c7c8ca"/>
<polygon points="1154.7,840 1169.7,815 1189.7,800 1191.7,825 1179.7,855 1164.7,868 1154.7,860" fill="#c7c8ca"/>
<polygon points="1111.7,572 1129.7,556 1164.7,552 1179.7,570 1194.7,590 1219.7,600 1241.7,605 1224.7,625 1204.7,645 1171.7,658 1161.7,648 1145.7,618 1129.7,590" fill="#c7c8ca"/>
<polygon points="879.7,490 884.7,470 919.7,465 934.7,480 924.7,510 894.7,520 879.7,510" fill="#c7c8ca"/>
<polygon points="879.7,400 894.7,375 909.7,370 914.7,395 919.7,420 899.7,430 884.7,420" fill="#c7c8ca"/>
<polygon points="867.7,405 877.7,400 877.7,418 867.7,420" fill="#c7c8ca"/>
<polygon points="944.7,350 954.7,320 979.7,280 1009.7,255 1044.7,250 1079.7,265 1094.7,290 1079.7,300 1059.7,295 1039.7,310 1029.7,335 1014.7,360 999.7,375 984.7,350 974.7,375 959.7,380 947.7,368" fill="#c7c8ca"/>
<polygon points="919.7,465 914.7,445 899.7,440 924.7,425 939.7,410 954.7,395 971.7,380 974.7,360 985.7,365 981.7,385 1004.7,385 1029.7,375 1044.7,360 1041.7,340 1064.7,335 1079.7,320 1094.7,300 1109.7,290 1129.7,275 1154.7,265 1179.7,255 1209.7,250 1224.7,265 1237.7,275 1229.7,240 1209.7,215 1229.7,200 1254.7,170 1279.7,140 1304.7,115 1334.7,120 1349.7,150 1379.7,160 1419.7,145 1449.7,165 1489.7,150 1519.7,135 1569.7,140 1614.7,145 1649.7,125 1699.7,122 1744.7,130 1747.7,160 1729.7,180 1739.7,210 1724.7,235 1704.7,250 1694.7,265 1704.7,300 1701.7,340 1691.7,365 1679.7,340 1671.7,300 1674.7,270 1654.7,255 1644.7,280 1619.7,290 1594.7,320 1584.7,345 1609.7,360 1624.7,390 1619.7,420 1604.7,445 1584.7,470 1571.7,482 1585.7,498 1599.7,495 1604.7,520 1591.7,530 1576.7,508 1554.7,495 1539.7,490 1544.7,520 1564.7,545 1569.7,580 1554.7,605 1529.7,620 1504.7,625 1494.7,640 1509.7,660 1504.7,680 1484.7,670 1475.7,655 1481.7,682 1493.7,712 1500.7,726 1491.7,728 1479.7,705 1467.7,675 1461.7,640 1454.7,620 1439.7,615 1419.7,610 1404.7,640 1384.7,660 1364.7,690 1357.7,696 1344.7,670 1329.7,640 1319.7,610 1299.7,595 1274.7,590 1244.7,585 1224.7,580 1199.7,570 1184.7,560 1169.7,540 1149.7,530 1134.7,545 1111.7,552 1101.7,548 1094.7,530 1109.7,520 1094.7,515 1064.7,520 1044.7,515 1047.7,500 1039.7,530 1029.7,522 1015.7,492 995.7,470 983.7,478 997.7,500 1009.7,522 1003.7,530 985.7,512 965.7,488 949.7,472 934.7,480" fill="#c7c8ca"/>
<polygon points="1134.7,230 1144.7,190 1164.7,160 1177.7,158 1159.7,195 1151.7,235 1141.7,245" fill="#c7c8ca"/>
<polygon points="959.7,140 989.7,128 1009.7,135 999.7,160 979.7,180 969.7,165" fill="#c7c8ca"/>
<polygon points="1074.7,110 1119.7,90 1129.7,100 1094.7,122" fill="#c7c8ca"/>
<polygon points="1224.7,70 1259.7,85 1289.7,100 1274.7,108 1239.7,95" fill="#c7c8ca"/>
<polygon points="1434.7,90 1479.7,85 1494.7,95 1459.7,105" fill="#c7c8ca"/>
<polygon points="1649.7,400 1669.7,395 1674.7,420 1657.7,425" fill="#c7c8ca"/>
<polygon points="1644.7,435 1659.7,430 1657.7,470 1644.7,500 1624.7,520 1604.7,535 1599.7,525 1619.7,505 1634.7,480 1639.7,455" fill="#c7c8ca"/>
<polygon points="1674.7,270 1684.7,265 1694.7,310 1691.7,350 1681.7,345 1679.7,300" fill="#c7c8ca"/>
<polygon points="1579.7,590 1587.7,588 1585.7,605 1577.7,603" fill="#c7c8ca"/>
<polygon points="1569.7,620 1584.7,625 1589.7,650 1601.7,680 1604.7,700 1591.7,698 1579.7,670 1571.7,645" fill="#c7c8ca"/>
<polygon points="1364.7,692 1372.7,702 1365.7,710" fill="#c7c8ca"/>
<polygon points="1439.7,690 1454.7,700 1479.7,730 1504.7,765 1494.7,770 1469.7,745 1444.7,715" fill="#c7c8ca"/>
<polygon points="1519.7,710 1544.7,695 1564.7,700 1569.7,725 1554.7,750 1529.7,748 1517.7,730" fill="#c7c8ca"/>
<polygon points="1504.7,770 1539.7,775 1574.7,782 1574.7,790 1534.7,785 1504.7,778" fill="#c7c8ca"/>
<polygon points="1579.7,720 1599.7,715 1594.7,735 1601.7,760 1589.7,758 1582.7,740" fill="#c7c8ca"/>
<polygon points="1629.7,740 1654.7,735 1689.7,750 1724.7,765 1739.7,785 1714.7,782 1679.7,775 1649.7,765 1631.7,752" fill="#c7c8ca"/>
<polygon points="1755.7,768 1763.7,766 1765.7,774 1757.7,776" fill="#c7c8ca"/>
<polygon points="1779.7,778 1787.7,776 1789.7,784 1781.7,786" fill="#c7c8ca"/>
<polygon points="1529.7,880 1534.7,860 1564.7,840 1594.7,825 1619.7,800 1644.7,795 1654.7,815 1669.7,820 1679.7,790 1687.7,772 1694.7,800 1704.7,830 1724.7,860 1739.7,890 1734.7,925 1714.7,955 1694.7,975 1669.7,978 1649.7,960 1634.7,935 1609.7,925 1579.7,925 1549.7,940 1531.7,935 1534.7,905" fill="#c7c8ca"/>
<polygon points="1669.7,990 1687.7,988 1681.7,1012 1672.7,1015" fill="#c7c8ca"/>
<polygon points="1834.7,960 1841.7,975 1851.7,990 1839.7,1000 1829.7,985" fill="#c7c8ca"/>
<polygon points="1824.7,1005 1814.7,1025 1794.7,1045 1774.7,1062 1767.7,1055 1784.7,1035 1804.7,1015" fill="#c7c8ca"/>
<polygon points="1067.7,462 1094.7,452 1124.7,462 1131.7,480 1109.7,490 1079.7,488 1065.7,476" fill="#ececee"/>
<polygon points="1164.7,452 1179.7,448 1191.7,470 1195.7,505 1184.7,520 1175.7,500 1169.7,475" fill="#ececee"/>
<polygon points="412,600 430,585 452,580 470,590 478,610 460,612 448,625 430,628 415,615" fill="#ececee"/>
</g>
<circle cx="795" cy="1974" r="40" fill="#c7c8ca"/>
<path d="M752,2021 H838 Q848,2021 852,2031 L891.5,2122 Q898,2140 884,2149 Q868,2157 859,2143 L844.5,2126 V2298 A22,22 0 0 1 822.5,2320 H820.5 A22,22 0 0 1 798.5,2298 V2179 H789.5 V2298 A22,22 0 0 1 767.5,2320 H766.5 A22,22 0 0 1 744.5,2298 V2126 L731,2143 Q722,2157 706,2149 Q692,2140 698.5,2122 L738,2031 Q742,2021 752,2021Z" fill="#c7c8ca"/>
<circle cx="881" cy="2243.7" r="82" fill="#ececee"/>
<circle cx="881" cy="2243.7" r="73.2" fill="#c7c8ca"/>
<path d="M896.5,2217 C894,2209.5 888.5,2205.5 881.5,2205.5 C870.5,2205.5 864,2213 864,2223 C864,2234 872,2239 881.5,2243 C891,2247 899,2252 899,2263 C899,2274 891,2281 881.5,2281 C874,2281 867,2277 863.5,2269.5 M881.5,2200.5V2206 M881.5,2281V2285.5" fill="none" stroke="#ececee" stroke-width="10.4" stroke-linecap="round" stroke-linejoin="round"/>
<path d="M296.8,1419.5V2341.7" stroke="#4a4a4c" stroke-width="1.6" fill="none"/>
<defs><clipPath id="fc"><circle cx="0" cy="0" r="11.25"/></clipPath></defs>
<rect x="298.0" y="1426.75" width="565.94" height="25.2" fill="#8cb9d4"/>
<g transform="translate(72.30,1449.25) scale(0.9494,1)" font-size="24.5" font-weight="bold" fill="#111111"><text transform="translate(0.00,0) scale(0.66,1)" stroke="#111111" stroke-width="0.86" vector-effect="non-scaling-stroke">1</text><text x="8.99" y="0">.</text></g>
<text transform="translate(140.30,1449.25) scale(1.0569,1)" font-size="24.5" font-weight="normal" fill="#1c1c1c" stroke="#1c1c1c" stroke-width="0.4" stroke-linejoin="round" textLength="134.83" lengthAdjust="spacingAndGlyphs">Lüksemburg</text>
<g transform="translate(883.70,1449.25) scale(1.0255,1)" font-size="23.5" font-weight="bold" fill="#111111"><text transform="translate(0.00,0) scale(0.66,1)" stroke="#111111" stroke-width="0.82" vector-effect="non-scaling-stroke">1</text><text x="8.63 21.70 34.77 41.29 54.36" y="0">36.70</text><text transform="translate(67.43,0) scale(0.66,1)" stroke="#111111" stroke-width="0.82" vector-effect="non-scaling-stroke">1</text></g>
<g transform="translate(113,1440.50)" clip-path="url(#fc)"><rect x="-12" y="-12.25" width="24" height="8.5" fill="#c8434a"/><rect x="-12" y="-3.75" width="24" height="7.55" fill="#f7f6f6"/><rect x="-12" y="3.75" width="24" height="8.5" fill="#4c9bd6"/></g>
<rect x="298.0" y="1462.06" width="409.91" height="25.2" fill="#8cb9d4"/>
<g transform="translate(66.30,1484.50) scale(1.0278,1)" font-size="24.5" font-weight="bold" fill="#111111"><text x="0.00 13.63" y="0">2.</text></g>
<text transform="translate(140.30,1484.50) scale(1.0879,1)" font-size="24.5" font-weight="normal" fill="#1c1c1c" stroke="#1c1c1c" stroke-width="0.4" stroke-linejoin="round" textLength="74.91" lengthAdjust="spacingAndGlyphs">İrlanda</text>
<g transform="translate(726.20,1484.50) scale(1.0573,1)" font-size="23.5" font-weight="bold" fill="#111111"><text x="0.00 13.07 26.14 32.67" y="0">99.0</text><text transform="translate(45.74,0) scale(0.66,1)" stroke="#111111" stroke-width="0.82" vector-effect="non-scaling-stroke">1</text><text x="54.36" y="0">3</text></g>
<g transform="translate(113,1475.75)" clip-path="url(#fc)"><rect x="-12.25" y="-12" width="8.5" height="24" fill="#8fab5c"/><rect x="-3.75" y="-12" width="7.55" height="24" fill="#f7f6f6"/><rect x="3.75" y="-12" width="8.5" height="24" fill="#cfbb4e"/><path d="M5,-7l2,2l-2,2l2,2l-2,2l2,2l-2,2" stroke="#e2506a" stroke-width="1.6" fill="none"/></g>
<rect x="298.0" y="1497.37" width="388.00" height="25.2" fill="#8cb9d4"/>
<g transform="translate(66.30,1519.75) scale(1.0278,1)" font-size="24.5" font-weight="bold" fill="#111111"><text x="0.00 13.63" y="0">3.</text></g>
<text transform="translate(140.30,1519.75) scale(1.0242,1)" font-size="24.5" font-weight="normal" fill="#1c1c1c" stroke="#1c1c1c" stroke-width="0.4" stroke-linejoin="round" textLength="70.79" lengthAdjust="spacingAndGlyphs">İsviçre</text>
<g transform="translate(703.70,1519.75) scale(1.0337,1)" font-size="23.5" font-weight="bold" fill="#111111"><text x="0.00 13.07 26.14 32.67 45.74 58.81" y="0">93.720</text></g>
<g transform="translate(113,1511.00)" clip-path="url(#fc)"><rect x="-12" y="-12" width="24" height="24" fill="#ea4b5b"/><rect x="-2" y="-6" width="4" height="12" fill="#fff"/><rect x="-6" y="-2" width="12" height="4" fill="#fff"/></g>
<rect x="298.0" y="1532.68" width="368.83" height="25.2" fill="#8cb9d4"/>
<g transform="translate(66.30,1555.00) scale(1.0278,1)" font-size="24.5" font-weight="bold" fill="#111111"><text x="0.00 13.63" y="0">4.</text></g>
<text transform="translate(140.30,1555.00) scale(1.0309,1)" font-size="24.5" font-weight="normal" fill="#1c1c1c" stroke="#1c1c1c" stroke-width="0.4" stroke-linejoin="round" textLength="77.61" lengthAdjust="spacingAndGlyphs">Norveç</text>
<g transform="translate(681.00,1555.00) scale(1.0991,1)" font-size="23.5" font-weight="bold" fill="#111111"><text x="0.00 13.07 26.14 32.67 45.74 58.81" y="0">89.090</text></g>
<g transform="translate(113,1546.25)" clip-path="url(#fc)"><rect x="-12" y="-12" width="24" height="24" fill="#ea4b5b"/><rect x="-6" y="-12" width="6" height="24" fill="#f7f6f6"/><rect x="-12" y="-3" width="24" height="6" fill="#f7f6f6"/><rect x="-4.6" y="-12" width="3.2" height="24" fill="#3f7fc0"/><rect x="-12" y="-1.6" width="24" height="3.2" fill="#3f7fc0"/></g>
<rect x="298.0" y="1567.99" width="301.37" height="25.2" fill="#8cb9d4"/>
<g transform="translate(66.30,1590.25) scale(1.0278,1)" font-size="24.5" font-weight="bold" fill="#111111"><text x="0.00 13.63" y="0">5.</text></g>
<text transform="translate(140.30,1590.25) scale(1.0706,1)" font-size="24.5" font-weight="normal" fill="#1c1c1c" stroke="#1c1c1c" stroke-width="0.4" stroke-linejoin="round" textLength="98.08" lengthAdjust="spacingAndGlyphs">Singapur</text>
<g transform="translate(615.50,1590.25) scale(1.0114,1)" font-size="23.5" font-weight="bold" fill="#111111"><text x="0.00 13.07 26.14 32.67 45.74 58.81" y="0">72.795</text></g>
<g transform="translate(113,1581.50)" clip-path="url(#fc)"><rect x="-12" y="-12.25" width="24" height="12.25" fill="#ea4b5b"/><rect x="-12" y="0.0" width="24" height="12.25" fill="#f7f6f6"/><circle cx="-3.5" cy="-5" r="3" fill="none" stroke="#fff" stroke-width="1"/></g>
<rect x="298.0" y="1603.30" width="286.62" height="25.2" fill="#8cb9d4"/>
<g transform="translate(66.30,1625.50) scale(1.0278,1)" font-size="24.5" font-weight="bold" fill="#111111"><text x="0.00 13.63" y="0">6.</text></g>
<text transform="translate(140.30,1625.50) scale(0.9131,1)" font-size="24.5" font-weight="normal" fill="#1c1c1c" stroke="#1c1c1c" stroke-width="0.4" stroke-linejoin="round" textLength="50.38" lengthAdjust="spacingAndGlyphs">ABD</text>
<g transform="translate(602.00,1625.50) scale(1.0336,1)" font-size="23.5" font-weight="bold" fill="#111111"><text x="0.00 13.07 26.14 32.67 45.74" y="0">69.23</text><text transform="translate(58.81,0) scale(0.66,1)" stroke="#111111" stroke-width="0.82" vector-effect="non-scaling-stroke">1</text></g>
<g transform="translate(113,1616.75)" clip-path="url(#fc)"><rect x="-12" y="-12" width="24" height="24" fill="#f7f6f6"/><rect x="-12" y="-11.25" width="24" height="1.73" fill="#ea6570"/><rect x="-12" y="-7.79" width="24" height="1.73" fill="#ea6570"/><rect x="-12" y="-4.33" width="24" height="1.73" fill="#ea6570"/><rect x="-12" y="-0.870000000000001" width="24" height="1.73" fill="#ea6570"/><rect x="-12" y="2.59" width="24" height="1.73" fill="#ea6570"/><rect x="-12" y="6.050000000000001" width="24" height="1.73" fill="#ea6570"/><rect x="-12" y="9.509999999999998" width="24" height="1.73" fill="#ea6570"/><rect x="-12" y="-12" width="12" height="11.6" fill="#4a7cc0"/><path d="M-9,-8h7M-10,-5h8M-11,-2.5h9" stroke="#dfe8f5" stroke-width="0.9" stroke-dasharray="1 1" fill="none"/></g>
<rect x="298.0" y="1638.61" width="263.01" height="25.2" fill="#8cb9d4"/>
<g transform="translate(57.80,1660.75) scale(1.0025,1)" font-size="24.5" font-weight="bold" fill="#111111"><text transform="translate(0.00,0) scale(0.66,1)" stroke="#111111" stroke-width="0.86" vector-effect="non-scaling-stroke">1</text><text x="8.99 22.62" y="0">0.</text></g>
<text transform="translate(140.30,1660.75) scale(1.0751,1)" font-size="24.5" font-weight="normal" fill="#1c1c1c" stroke="#1c1c1c" stroke-width="0.4" stroke-linejoin="round" textLength="113.94" lengthAdjust="spacingAndGlyphs">Avustralya</text>
<g transform="translate(579.50,1660.75) scale(1.0699,1)" font-size="23.5" font-weight="bold" fill="#111111"><text x="0.00 13.07 26.14 32.67 45.74 58.81" y="0">63.529</text></g>
<g transform="translate(113,1652.00)" clip-path="url(#fc)"><rect x="-12" y="-12" width="24" height="24" fill="#2f5ea8"/><path d="M-12,-12L0,0M0,-12L-12,0" stroke="#fff" stroke-width="2.4"/><path d="M-12,-12L0,0" stroke="#ea4b5b" stroke-width="1.1"/><rect x="-7.2" y="-12" width="2.4" height="12" fill="#fff"/><rect x="-12" y="-7.2" width="12" height="2.4" fill="#fff"/><rect x="-6.7" y="-12" width="1.4" height="12" fill="#ea4b5b"/><rect x="-12" y="-6.7" width="12" height="1.4" fill="#ea4b5b"/><polygon points="-5.00,2.30 -4.62,3.71 -3.28,3.13 -4.14,4.30 -2.86,4.99 -4.31,5.05 -4.05,6.48 -5.00,5.38 -5.95,6.48 -5.69,5.05 -7.14,4.99 -5.86,4.30 -6.72,3.13 -5.38,3.71" fill="#fff"/><polygon points="5.00,-7.20 5.21,-6.43 5.94,-6.75 5.47,-6.11 6.17,-5.73 5.38,-5.70 5.52,-4.92 5.00,-5.52 4.48,-4.92 4.62,-5.70 3.83,-5.73 4.53,-6.11 4.06,-6.75 4.79,-6.43" fill="#fff"/><polygon points="8.00,-2.10 8.19,-1.40 8.86,-1.69 8.43,-1.10 9.07,-0.76 8.34,-0.73 8.48,-0.01 8.00,-0.56 7.52,-0.01 7.66,-0.73 6.93,-0.76 7.57,-1.10 7.14,-1.69 7.81,-1.40" fill="#fff"/><polygon points="5.00,4.30 5.21,5.07 5.94,4.75 5.47,5.39 6.17,5.77 5.38,5.80 5.52,6.58 5.00,5.98 4.48,6.58 4.62,5.80 3.83,5.77 4.53,5.39 4.06,4.75 4.79,5.07" fill="#fff"/><polygon points="2.50,-1.00 2.67,-0.36 3.28,-0.62 2.89,-0.09 3.47,0.22 2.81,0.25 2.93,0.90 2.50,0.40 2.07,0.90 2.19,0.25 1.53,0.22 2.11,-0.09 1.72,-0.62 2.33,-0.36" fill="#fff"/></g>
<rect x="298.0" y="1673.92" width="248.52" height="25.2" fill="#8cb9d4"/>
<g transform="translate(63.80,1696.00) scale(0.9478,1)" font-size="24.5" font-weight="bold" fill="#111111"><text transform="translate(0.00,0) scale(0.66,1)" stroke="#111111" stroke-width="0.86" vector-effect="non-scaling-stroke">1</text><text transform="translate(8.99,0) scale(0.66,1)" stroke="#111111" stroke-width="0.86" vector-effect="non-scaling-stroke">1</text><text x="17.99" y="0">.</text></g>
<text transform="translate(140.30,1696.00) scale(1.0230,1)" font-size="24.5" font-weight="normal" fill="#1c1c1c" stroke="#1c1c1c" stroke-width="0.4" stroke-linejoin="round" textLength="57.18" lengthAdjust="spacingAndGlyphs">İsveç</text>
<g transform="translate(563.00,1696.00) scale(1.0796,1)" font-size="23.5" font-weight="bold" fill="#111111"><text x="0.00 13.07 26.14 32.67 45.74 58.81" y="0">60.029</text></g>
<g transform="translate(113,1687.25)" clip-path="url(#fc)"><rect x="-12" y="-12" width="24" height="24" fill="#4a95cd"/><rect x="-6" y="-12" width="4.6" height="24" fill="#f5d33b"/><rect x="-12" y="-2.3" width="24" height="4.6" fill="#f5d33b"/></g>
<rect x="298.0" y="1709.23" width="241.33" height="25.2" fill="#8cb9d4"/>
<g transform="translate(57.80,1731.25) scale(1.0025,1)" font-size="24.5" font-weight="bold" fill="#111111"><text transform="translate(0.00,0) scale(0.66,1)" stroke="#111111" stroke-width="0.86" vector-effect="non-scaling-stroke">1</text><text x="8.99 22.62" y="0">2.</text></g>
<text transform="translate(140.30,1731.25) scale(1.0754,1)" font-size="24.5" font-weight="normal" fill="#1c1c1c" stroke="#1c1c1c" stroke-width="0.4" stroke-linejoin="round" textLength="96.71" lengthAdjust="spacingAndGlyphs">Hollanda</text>
<g transform="translate(557.40,1731.25) scale(1.0643,1)" font-size="23.5" font-weight="bold" fill="#111111"><text x="0.00 13.07 26.14 32.67 45.74 58.81" y="0">58.292</text></g>
<g transform="translate(113,1722.50)" clip-path="url(#fc)"><rect x="-12" y="-12.25" width="24" height="8.5" fill="#ea4b5b"/><rect x="-12" y="-3.75" width="24" height="7.55" fill="#f7f6f6"/><rect x="-12" y="3.75" width="24" height="8.5" fill="#3f88c8"/></g>
<rect x="298.0" y="1744.54" width="215.61" height="25.2" fill="#8cb9d4"/>
<g transform="translate(57.80,1766.50) scale(1.0025,1)" font-size="24.5" font-weight="bold" fill="#111111"><text transform="translate(0.00,0) scale(0.66,1)" stroke="#111111" stroke-width="0.86" vector-effect="non-scaling-stroke">1</text><text x="8.99 22.62" y="0">6.</text></g>
<text transform="translate(140.30,1766.50) scale(1.0773,1)" font-size="24.5" font-weight="normal" fill="#1c1c1c" stroke="#1c1c1c" stroke-width="0.4" stroke-linejoin="round" textLength="84.47" lengthAdjust="spacingAndGlyphs">Kanada</text>
<g transform="translate(532.60,1766.50) scale(1.0490,1)" font-size="23.5" font-weight="bold" fill="#111111"><text x="0.00 13.07 26.14 32.67 45.74 58.81" y="0">52.079</text></g>
<g transform="translate(113,1757.75)" clip-path="url(#fc)"><rect x="-12" y="-12" width="24" height="24" fill="#f7f6f6"/><rect x="-12" y="-12" width="6.3" height="24" fill="#ea4b5b"/><rect x="5.7" y="-12" width="6.3" height="24" fill="#ea4b5b"/><path d="M0,-5.2L1.3,-2.8L3.2,-3.4L2.6,-0.8L4.3,0.2L2.6,1.6L3,2.8H0.5V5H-0.5V2.8H-3L-2.6,1.6L-4.3,0.2L-2.6,-0.8L-3.2,-3.4L-1.3,-2.8Z" fill="#ea4b5b"/></g>
<rect x="298.0" y="1779.85" width="212.86" height="25.2" fill="#8cb9d4"/>
<g transform="translate(57.80,1801.75) scale(1.0025,1)" font-size="24.5" font-weight="bold" fill="#111111"><text transform="translate(0.00,0) scale(0.66,1)" stroke="#111111" stroke-width="0.86" vector-effect="non-scaling-stroke">1</text><text x="8.99 22.62" y="0">7.</text></g>
<text transform="translate(140.30,1801.75) scale(1.0149,1)" font-size="24.5" font-weight="normal" fill="#1c1c1c" stroke="#1c1c1c" stroke-width="0.4" stroke-linejoin="round" textLength="51.73" lengthAdjust="spacingAndGlyphs">İsrail</text>
<g transform="translate(532.60,1801.75) scale(1.0605,1)" font-size="23.5" font-weight="bold" fill="#111111"><text x="0.00" y="0">5</text><text transform="translate(13.07,0) scale(0.66,1)" stroke="#111111" stroke-width="0.82" vector-effect="non-scaling-stroke">1</text><text x="21.70 28.22" y="0">.4</text><text transform="translate(41.29,0) scale(0.66,1)" stroke="#111111" stroke-width="0.82" vector-effect="non-scaling-stroke">1</text><text x="49.92" y="0">6</text></g>
<g transform="translate(113,1793.00)" clip-path="url(#fc)"><rect x="-12" y="-12" width="24" height="24" fill="#f7f6f6"/><rect x="-12" y="-8.6" width="24" height="2.8" fill="#3f88c6"/><rect x="-12" y="5.2" width="24" height="2.8" fill="#3f88c6"/><path d="M0,-3.6L3,1.7H-3Z M0,3.6L-3,-1.7H3Z" fill="none" stroke="#3f88c6" stroke-width="1"/></g>
<rect x="298.0" y="1815.16" width="210.29" height="25.2" fill="#8cb9d4"/>
<g transform="translate(57.80,1837.00) scale(1.0025,1)" font-size="24.5" font-weight="bold" fill="#111111"><text transform="translate(0.00,0) scale(0.66,1)" stroke="#111111" stroke-width="0.86" vector-effect="non-scaling-stroke">1</text><text x="8.99 22.62" y="0">8.</text></g>
<text transform="translate(140.30,1837.00) scale(1.0910,1)" font-size="24.5" font-weight="normal" fill="#1c1c1c" stroke="#1c1c1c" stroke-width="0.4" stroke-linejoin="round" textLength="95.32" lengthAdjust="spacingAndGlyphs">Almanya</text>
<g transform="translate(527.30,1837.00) scale(1.0712,1)" font-size="23.5" font-weight="bold" fill="#111111"><text x="0.00 13.07 26.14 32.67 45.74 58.81" y="0">50.795</text></g>
<g transform="translate(113,1828.25)" clip-path="url(#fc)"><rect x="-12" y="-12.25" width="24" height="8.5" fill="#3a3a3c"/><rect x="-12" y="-3.75" width="24" height="7.55" fill="#ea4b5b"/><rect x="-12" y="3.75" width="24" height="8.5" fill="#f7d72e"/></g>
<rect x="298.0" y="1850.47" width="195.42" height="25.2" fill="#8cb9d4"/>
<g transform="translate(51.80,1872.25) scale(1.0423,1)" font-size="24.5" font-weight="bold" fill="#111111"><text x="0.00 13.63 27.25" y="0">22.</text></g>
<text transform="translate(140.30,1872.25) scale(1.0669,1)" font-size="24.5" font-weight="normal" fill="#1c1c1c" stroke="#1c1c1c" stroke-width="0.4" stroke-linejoin="round" textLength="87.16" lengthAdjust="spacingAndGlyphs">İngiltere</text>
<g transform="translate(509.90,1872.25) scale(1.0532,1)" font-size="23.5" font-weight="bold" fill="#111111"><text x="0.00 13.07 26.14 32.67 45.74 58.81" y="0">47.203</text></g>
<g transform="translate(113,1863.50)" clip-path="url(#fc)"><rect x="-12" y="-12" width="24" height="24" fill="#f7f6f6"/><path d="M-9,-12L-2.4,-12L-2.4,-4.6Z M9,-12L2.4,-12L2.4,-4.6Z M-9,12L-2.4,12L-2.4,4.6Z M9,12L2.4,12L2.4,4.6Z M-12,-8.5L-12,-2.4L-5,-2.4Z M12,-8.5L12,-2.4L5,-2.4Z M-12,8.5L-12,2.4L-5,2.4Z M12,8.5L12,2.4L5,2.4Z" fill="#2f5ea8"/><path d="M-12,-12L12,12M12,-12L-12,12" stroke="#ea4b5b" stroke-width="1.5"/><rect x="-3.6" y="-12" width="7.2" height="24" fill="#f7f6f6"/><rect x="-12" y="-3.6" width="24" height="7.2" fill="#f7f6f6"/><rect x="-2.3" y="-12" width="4.6" height="24" fill="#ea4b5b"/><rect x="-12" y="-2.3" width="24" height="4.6" fill="#ea4b5b"/></g>
<rect x="298.0" y="1885.78" width="185.69" height="25.2" fill="#8cb9d4"/>
<g transform="translate(51.80,1907.50) scale(1.0423,1)" font-size="24.5" font-weight="bold" fill="#111111"><text x="0.00 13.63 27.25" y="0">23.</text></g>
<text transform="translate(140.30,1907.50) scale(1.0294,1)" font-size="24.5" font-weight="normal" fill="#1c1c1c" stroke="#1c1c1c" stroke-width="0.4" stroke-linejoin="round" textLength="76.25" lengthAdjust="spacingAndGlyphs">Fransa</text>
<g transform="translate(498.60,1907.50) scale(1.1158,1)" font-size="23.5" font-weight="bold" fill="#111111"><text x="0.00 13.07 26.14 32.67 45.74 58.81" y="0">44.853</text></g>
<g transform="translate(113,1898.75)" clip-path="url(#fc)"><rect x="-12.25" y="-12" width="8.5" height="24" fill="#3f88c8"/><rect x="-3.75" y="-12" width="7.55" height="24" fill="#f7f6f6"/><rect x="3.75" y="-12" width="8.5" height="24" fill="#ea4b5b"/></g>
<rect x="298.0" y="1921.09" width="177.54" height="25.2" fill="#8cb9d4"/>
<g transform="translate(51.80,1942.75) scale(1.0423,1)" font-size="24.5" font-weight="bold" fill="#111111"><text x="0.00 13.63 27.25" y="0">26.</text></g>
<text transform="translate(140.30,1942.75) scale(0.9000,1)" font-size="24.5" font-weight="normal" fill="#1c1c1c" stroke="#1c1c1c" stroke-width="0.4" stroke-linejoin="round" textLength="45.56" lengthAdjust="spacing">BAE</text>
<g transform="translate(493.40,1942.75) scale(1.1005,1)" font-size="23.5" font-weight="bold" fill="#111111"><text x="0.00 13.07 26.14 32.67 45.74 58.81" y="0">42.884</text></g>
<g transform="translate(113,1934.00)" clip-path="url(#fc)"><rect x="-12" y="-12.25" width="24" height="8.5" fill="#3d9b3f"/><rect x="-12" y="-3.75" width="24" height="7.55" fill="#f7f6f6"/><rect x="-12" y="3.75" width="24" height="8.5" fill="#3a3a3c"/><rect x="-12" y="-12" width="8" height="24" fill="#ea4b5b"/></g>
<rect x="298.0" y="1956.40" width="162.87" height="25.2" fill="#8cb9d4"/>
<g transform="translate(51.80,1978.00) scale(1.0423,1)" font-size="24.5" font-weight="bold" fill="#111111"><text x="0.00 13.63 27.25" y="0">28.</text></g>
<text transform="translate(140.30,1978.00) scale(1.0957,1)" font-size="24.5" font-weight="normal" fill="#1c1c1c" stroke="#1c1c1c" stroke-width="0.4" stroke-linejoin="round" textLength="92.63" lengthAdjust="spacingAndGlyphs">Japonya</text>
<g transform="translate(474.20,1978.00) scale(1.0810,1)" font-size="23.5" font-weight="bold" fill="#111111"><text x="0.00 13.07 26.14 32.67 45.74 58.81" y="0">39.340</text></g>
<g transform="translate(113,1969.25)" clip-path="url(#fc)"><rect x="-12" y="-12" width="24" height="24" fill="#f8f7f7"/><circle cx="0" cy="0" r="4.6" fill="#ea4b5b"/></g>
<rect x="298.0" y="1991.71" width="109.34" height="25.2" fill="#8cb9d4"/>
<g transform="translate(57.80,2013.25) scale(1.0025,1)" font-size="24.5" font-weight="bold" fill="#111111"><text x="0.00" y="0">4</text><text transform="translate(13.63,0) scale(0.66,1)" stroke="#111111" stroke-width="0.86" vector-effect="non-scaling-stroke">1</text><text x="22.62" y="0">.</text></g>
<text transform="translate(140.30,2013.25) scale(1.0440,1)" font-size="24.5" font-weight="normal" fill="#1c1c1c" stroke="#1c1c1c" stroke-width="0.4" stroke-linejoin="round" textLength="69.45" lengthAdjust="spacingAndGlyphs">Çekya</text>
<g transform="translate(421.40,2013.25) scale(1.0414,1)" font-size="23.5" font-weight="bold" fill="#111111"><text x="0.00 13.07 26.14 32.67" y="0">26.4</text><text transform="translate(45.74,0) scale(0.66,1)" stroke="#111111" stroke-width="0.82" vector-effect="non-scaling-stroke">1</text><text transform="translate(54.36,0) scale(0.66,1)" stroke="#111111" stroke-width="0.82" vector-effect="non-scaling-stroke">1</text></g>
<g transform="translate(113,2004.50)" clip-path="url(#fc)"><rect x="-12" y="-12.25" width="24" height="12.25" fill="#f7f6f6"/><rect x="-12" y="0.0" width="24" height="12.25" fill="#ea4b5b"/><path d="M-12,-12L0.5,0L-12,12Z" fill="#3f88c6"/></g>
<rect x="298.0" y="2027.02" width="97.32" height="25.2" fill="#8cb9d4"/>
<g transform="translate(51.80,2048.50) scale(1.0423,1)" font-size="24.5" font-weight="bold" fill="#111111"><text x="0.00 13.63 27.25" y="0">44.</text></g>
<text transform="translate(140.30,2048.50) scale(1.0383,1)" font-size="24.5" font-weight="normal" fill="#1c1c1c" stroke="#1c1c1c" stroke-width="0.4" stroke-linejoin="round" textLength="126.66" lengthAdjust="spacingAndGlyphs">S.Arabistan</text>
<g transform="translate(413.10,2048.50) scale(1.0546,1)" font-size="23.5" font-weight="bold" fill="#111111"><text x="0.00 13.07 26.14 32.67 45.74 58.81" y="0">23.507</text></g>
<g transform="translate(113,2039.75)" clip-path="url(#fc)"><rect x="-12" y="-12" width="24" height="24" fill="#3f9a3c"/><rect x="-6" y="-3.6" width="12" height="3.2" fill="#e9f2e4"/><rect x="-5" y="2" width="10" height="1.4" fill="#d5e8cf"/></g>
<rect x="298.0" y="2062.33" width="83.86" height="25.2" fill="#8cb9d4"/>
<g transform="translate(51.80,2083.75) scale(1.0423,1)" font-size="24.5" font-weight="bold" fill="#111111"><text x="0.00 13.63 27.25" y="0">48.</text></g>
<text transform="translate(140.30,2083.75) scale(1.0804,1)" font-size="24.5" font-weight="normal" fill="#1c1c1c" stroke="#1c1c1c" stroke-width="0.4" stroke-linejoin="round" textLength="121.25" lengthAdjust="spacingAndGlyphs">Yunanistan</text>
<g transform="translate(401.90,2083.75) scale(1.0685,1)" font-size="23.5" font-weight="bold" fill="#111111"><text x="0.00 13.07 26.14 32.67 45.74 58.81" y="0">20.256</text></g>
<g transform="translate(113,2075.00)" clip-path="url(#fc)"><rect x="-12" y="-12" width="24" height="24" fill="#f7f6f6"/><rect x="-12" y="-11.25" width="24" height="2.5" fill="#3f88c6"/><rect x="-12" y="-6.25" width="24" height="2.5" fill="#3f88c6"/><rect x="-12" y="-1.25" width="24" height="2.5" fill="#3f88c6"/><rect x="-12" y="3.75" width="24" height="2.5" fill="#3f88c6"/><rect x="-12" y="8.75" width="24" height="2.5" fill="#3f88c6"/><rect x="-12" y="-12" width="11" height="10.75" fill="#3f88c6"/><rect x="-12" y="-7.5" width="11" height="2.4" fill="#f7f6f6"/><rect x="-8" y="-12" width="2.4" height="10.75" fill="#f7f6f6"/></g>
<rect x="298.0" y="2097.64" width="69.63" height="25.2" fill="#8cb9d4"/>
<g transform="translate(51.80,2119.00) scale(1.0423,1)" font-size="24.5" font-weight="bold" fill="#111111"><text x="0.00 13.63 27.25" y="0">53.</text></g>
<text transform="translate(140.30,2119.00) scale(1.0590,1)" font-size="24.5" font-weight="normal" fill="#1c1c1c" stroke="#1c1c1c" stroke-width="0.4" stroke-linejoin="round" textLength="117.09" lengthAdjust="spacingAndGlyphs">Hırvatistan</text>
<g transform="translate(386.10,2119.00) scale(1.0541,1)" font-size="23.5" font-weight="bold" fill="#111111"><text transform="translate(0.00,0) scale(0.66,1)" stroke="#111111" stroke-width="0.82" vector-effect="non-scaling-stroke">1</text><text x="8.63 21.70 28.22" y="0">6.8</text><text transform="translate(41.29,0) scale(0.66,1)" stroke="#111111" stroke-width="0.82" vector-effect="non-scaling-stroke">1</text><text x="49.92" y="0">8</text></g>
<g transform="translate(113,2110.25)" clip-path="url(#fc)"><rect x="-12" y="-12.25" width="24" height="8.5" fill="#ea4b5b"/><rect x="-12" y="-3.75" width="24" height="7.55" fill="#f7f6f6"/><rect x="-12" y="3.75" width="24" height="8.5" fill="#3f88c6"/><path d="M-4,-5H4V2.5Q4,6.5 0,7.5Q-4,6.5 -4,2.5Z" fill="#f3a6ae"/><path d="M-4,-5h2v2h-2zM0,-5h2v2h-2zM-2,-3h2v2h-2zM2,-3h2v2h-2zM-4,-1h2v2h-2zM0,-1h2v2h-2zM-2,1h2v2h-2zM2,1h2v2h-2zM-4,3h2v2h-2zM0,3h2v2h-2z" fill="#e04a5a"/></g>
<rect x="298.0" y="2132.95" width="69.49" height="25.2" fill="#8cb9d4"/>
<g transform="translate(51.80,2154.25) scale(1.0423,1)" font-size="24.5" font-weight="bold" fill="#111111"><text x="0.00 13.63 27.25" y="0">54.</text></g>
<text transform="translate(140.30,2154.25) scale(1.0422,1)" font-size="24.5" font-weight="normal" fill="#1c1c1c" stroke="#1c1c1c" stroke-width="0.4" stroke-linejoin="round" textLength="42.22" lengthAdjust="spacingAndGlyphs">İran</text>
<g transform="translate(386.10,2154.25) scale(1.0514,1)" font-size="23.5" font-weight="bold" fill="#111111"><text transform="translate(0.00,0) scale(0.66,1)" stroke="#111111" stroke-width="0.82" vector-effect="non-scaling-stroke">1</text><text x="8.63 21.70 28.22 41.29 54.36" y="0">6.784</text></g>
<g transform="translate(113,2145.50)" clip-path="url(#fc)"><rect x="-12" y="-12.25" width="24" height="8.5" fill="#8fab5c"/><rect x="-12" y="-3.75" width="24" height="7.55" fill="#f7f6f6"/><rect x="-12" y="3.75" width="24" height="8.5" fill="#ea4b5b"/><circle cx="0" cy="0" r="2.3" fill="#ea6a76"/></g>
<rect x="298.0" y="2168.26" width="60.72" height="25.2" fill="#8cb9d4"/>
<g transform="translate(57.80,2189.50) scale(1.0025,1)" font-size="24.5" font-weight="bold" fill="#111111"><text x="0.00" y="0">6</text><text transform="translate(13.63,0) scale(0.66,1)" stroke="#111111" stroke-width="0.86" vector-effect="non-scaling-stroke">1</text><text x="22.62" y="0">.</text></g>
<text transform="translate(140.30,2189.50) scale(1.0633,1)" font-size="24.5" font-weight="normal" fill="#1c1c1c" stroke="#1c1c1c" stroke-width="0.4" stroke-linejoin="round" textLength="104.86" lengthAdjust="spacingAndGlyphs">Romanya</text>
<g transform="translate(379.70,2189.50) scale(1.0677,1)" font-size="23.5" font-weight="bold" fill="#111111"><text transform="translate(0.00,0) scale(0.66,1)" stroke="#111111" stroke-width="0.82" vector-effect="non-scaling-stroke">1</text><text x="8.63 21.70 28.22 41.29 54.36" y="0">4.667</text></g>
<g transform="translate(113,2180.75)" clip-path="url(#fc)"><rect x="-12.25" y="-12" width="8.5" height="24" fill="#2f5ea8"/><rect x="-3.75" y="-12" width="7.55" height="24" fill="#f9d92f"/><rect x="3.75" y="-12" width="8.5" height="24" fill="#c8434a"/></g>
<rect x="298.0" y="2203.57" width="51.17" height="25.2" fill="#8cb9d4"/>
<g transform="translate(51.80,2224.75) scale(1.0423,1)" font-size="24.5" font-weight="bold" fill="#111111"><text x="0.00 13.63 27.25" y="0">65.</text></g>
<text transform="translate(140.30,2224.75) scale(1.0200,1)" font-size="24.5" font-weight="normal" fill="#1c1c1c" stroke="#1c1c1c" stroke-width="0.4" stroke-linejoin="round" textLength="36.76" lengthAdjust="spacingAndGlyphs">Çin</text>
<g transform="translate(368.50,2224.75) scale(1.0514,1)" font-size="23.5" font-weight="bold" fill="#111111"><text transform="translate(0.00,0) scale(0.66,1)" stroke="#111111" stroke-width="0.82" vector-effect="non-scaling-stroke">1</text><text x="8.63 21.70 28.22 41.29 54.36" y="0">2.359</text></g>
<g transform="translate(113,2216.00)" clip-path="url(#fc)"><rect x="-12" y="-12" width="24" height="24" fill="#ea4b5b"/><polygon points="-4.50,-8.10 -3.65,-5.66 -1.08,-5.61 -3.13,-4.06 -2.38,-1.59 -4.50,-3.06 -6.62,-1.59 -5.87,-4.06 -7.92,-5.61 -5.35,-5.66" fill="#f7d72e"/><polygon points="1.60,-9.10 1.86,-8.36 2.65,-8.34 2.02,-7.86 2.25,-7.11 1.60,-7.56 0.95,-7.11 1.18,-7.86 0.55,-8.34 1.34,-8.36" fill="#f7d72e"/><polygon points="3.60,-6.50 3.86,-5.76 4.65,-5.74 4.02,-5.26 4.25,-4.51 3.60,-4.96 2.95,-4.51 3.18,-5.26 2.55,-5.74 3.34,-5.76" fill="#f7d72e"/><polygon points="3.60,-3.30 3.86,-2.56 4.65,-2.54 4.02,-2.06 4.25,-1.31 3.60,-1.76 2.95,-1.31 3.18,-2.06 2.55,-2.54 3.34,-2.56" fill="#f7d72e"/><polygon points="1.60,-0.70 1.86,0.04 2.65,0.06 2.02,0.54 2.25,1.29 1.60,0.84 0.95,1.29 1.18,0.54 0.55,0.06 1.34,0.04" fill="#f7d72e"/></g>
<rect x="298.0" y="2238.88" width="50.50" height="25.2" fill="#8cb9d4"/>
<g transform="translate(51.80,2260.00) scale(1.0423,1)" font-size="24.5" font-weight="bold" fill="#111111"><text x="0.00 13.63 27.25" y="0">66.</text></g>
<text transform="translate(140.30,2260.00) scale(0.9936,1)" font-size="24.5" font-weight="normal" fill="#1c1c1c" stroke="#1c1c1c" stroke-width="0.4" stroke-linejoin="round" textLength="69.45" lengthAdjust="spacingAndGlyphs">Rusya</text>
<g transform="translate(368.50,2260.00) scale(1.0351,1)" font-size="23.5" font-weight="bold" fill="#111111"><text transform="translate(0.00,0) scale(0.66,1)" stroke="#111111" stroke-width="0.82" vector-effect="non-scaling-stroke">1</text><text x="8.63 21.70" y="0">2.</text><text transform="translate(28.22,0) scale(0.66,1)" stroke="#111111" stroke-width="0.82" vector-effect="non-scaling-stroke">1</text><text x="36.85 49.92" y="0">98</text></g>
<g transform="translate(113,2251.25)" clip-path="url(#fc)"><rect x="-12" y="-12.25" width="24" height="8.5" fill="#f7f6f6"/><rect x="-12" y="-3.75" width="24" height="7.55" fill="#3f88c6"/><rect x="-12" y="3.75" width="24" height="8.5" fill="#ea4b5b"/></g>
<rect x="298.0" y="2274.19" width="48.37" height="25.2" fill="#8cb9d4"/>
<g transform="translate(51.80,2295.25) scale(1.0423,1)" font-size="24.5" font-weight="bold" fill="#111111"><text x="0.00 13.63 27.25" y="0">68.</text></g>
<text transform="translate(140.30,2295.25) scale(1.0728,1)" font-size="24.5" font-weight="normal" fill="#1c1c1c" stroke="#1c1c1c" stroke-width="0.4" stroke-linejoin="round" textLength="122.58" lengthAdjust="spacingAndGlyphs">Bulgaristan</text>
<g transform="translate(363.20,2295.25) scale(1.0716,1)" font-size="23.5" font-weight="bold" fill="#111111"><text transform="translate(0.00,0) scale(0.66,1)" stroke="#111111" stroke-width="0.82" vector-effect="non-scaling-stroke">1</text><text transform="translate(8.63,0) scale(0.66,1)" stroke="#111111" stroke-width="0.82" vector-effect="non-scaling-stroke">1</text><text x="17.25 23.78 36.85 49.92" y="0">.684</text></g>
<g transform="translate(113,2286.50)" clip-path="url(#fc)"><rect x="-12" y="-12.25" width="24" height="8.5" fill="#f7f6f6"/><rect x="-12" y="-3.75" width="24" height="7.55" fill="#8fab5c"/><rect x="-12" y="3.75" width="24" height="8.5" fill="#ea4b5b"/></g>
<rect x="298.0" y="2309.50" width="39.45" height="25.2" fill="#ed1c24"/>
<g transform="translate(51.80,2330.50) scale(1.0423,1)" font-size="24.5" font-weight="bold" fill="#111111"><text x="0.00 13.63 27.25" y="0">78.</text></g>
<text transform="translate(140.30,2330.50) scale(1.0022,1)" font-size="24.5" font-weight="normal" fill="#1c1c1c" stroke="#1c1c1c" stroke-width="0.4" stroke-linejoin="round" textLength="80.32" lengthAdjust="spacingAndGlyphs">Türkiye</text>
<g transform="translate(358.00,2330.50) scale(1.0543,1)" font-size="23.5" font-weight="bold" fill="#111111"><text x="0.00 13.07 19.60 32.67 45.74" y="0">9.528</text></g>
<g transform="translate(113,2321.75)" clip-path="url(#fc)"><rect x="-12" y="-12" width="24" height="24" fill="#ea4b5b"/><circle cx="-2.2" cy="0" r="5.2" fill="#fff"/><circle cx="-0.8" cy="0" r="4.2" fill="#ea4b5b"/><polygon points="1.90,0.00 3.46,-0.54 3.49,-2.19 4.48,-0.87 6.06,-1.35 5.12,-0.00 6.06,1.35 4.48,0.87 3.49,2.19 3.46,0.54" fill="#fff"/></g>
<rect x="431.9" y="2360.5" width="160.3" height="93.7" fill="#a71d23"/>
<text transform="translate(452.40,2400.60) scale(1.0687,1)" font-size="31" font-weight="bold" fill="#ffffff" stroke="#ffffff" stroke-width="1.7" stroke-linejoin="round" textLength="110.23" lengthAdjust="spacingAndGlyphs">HABER</text>
<rect x="451.6" y="2405.3" width="119.4" height="4.2" fill="#ffffff"/>
<text transform="translate(452.80,2434.80) scale(1.2000,1)" font-size="29.5" font-weight="bold" fill="#ffffff" stroke="#ffffff" stroke-width="1.7" stroke-linejoin="round" textLength="97.83" lengthAdjust="spacing">TURK</text>
<text transform="translate(635.80,2400.30) scale(1.0555,1)" font-size="22" font-weight="normal" fill="#222222" stroke="#222222" stroke-width="0.35" stroke-linejoin="round" textLength="191.94" lengthAdjust="spacingAndGlyphs">Kaynak: IMF GSYH</text>
<text transform="translate(636.00,2429.90) scale(1.1600,1)" font-size="22" font-weight="normal" fill="#222222" stroke="#222222" stroke-width="0.35" stroke-linejoin="round" textLength="127.93" lengthAdjust="spacing">(Nisan 2022)</text>
</g>
</svg>
</body></html>
